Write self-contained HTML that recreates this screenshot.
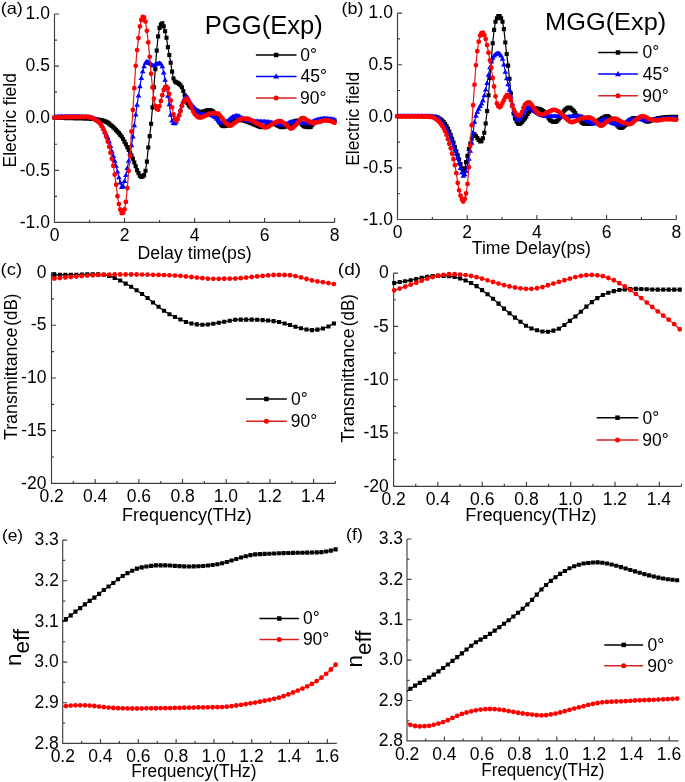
<!DOCTYPE html>
<html><head><meta charset="utf-8"><style>
html,body{margin:0;padding:0;background:#fff;width:685px;height:782px;overflow:hidden}
svg{display:block;will-change:transform}
text{font-family:"Liberation Sans",sans-serif;fill:#000}
</style></head><body>
<svg width="685" height="782" viewBox="0 0 685 782">
<rect width="685" height="782" fill="#fff"/>
<path d="M54.5,14V222.4H334.6M54.5,14h4.5M54.5,66.1h4.5M54.5,118.2h4.5M54.5,170.3h4.5M54.5,222.4h4.5M54.5,40.05h2.5M54.5,92.15h2.5M54.5,144.25h2.5M54.5,196.35h2.5M54.5,222.4v-4.5M124.53,222.4v-4.5M194.55,222.4v-4.5M264.58,222.4v-4.5M334.6,222.4v-4.5M89.51,222.4v-2.5M159.54,222.4v-2.5M229.56,222.4v-2.5M299.59,222.4v-2.5" stroke="#404040" stroke-width="1.15" fill="none"/>
<text x="25.56" y="19.2" font-size="17.5">1.0</text>
<text x="25.61" y="71.3" font-size="17.5">0.5</text>
<text x="25.56" y="123.4" font-size="17.5">0.0</text>
<text x="19.78" y="175.5" font-size="17.5">-0.5</text>
<text x="19.73" y="227.6" font-size="17.5">-1.0</text>
<text x="49.63" y="241" font-size="17.5">0</text>
<text x="119.66" y="241" font-size="17.5">2</text>
<text x="189.74" y="241" font-size="17.5">4</text>
<text x="259.65" y="241" font-size="17.5">6</text>
<text x="329.73" y="241" font-size="17.5">8</text>
<path d="M54.50,117.80 L55.90,117.84 L57.30,117.87 L58.70,117.91 L60.10,117.94 L61.50,117.98 L62.90,118.02 L64.30,118.05 L65.70,118.09 L67.10,118.12 L68.50,118.16 L69.90,118.20 L71.30,118.23 L72.70,118.27 L74.10,118.30 L75.50,118.33 L76.90,118.37 L78.30,118.40 L79.70,118.44 L81.10,118.48 L82.50,118.52 L83.90,118.56 L85.30,118.61 L86.70,118.66 L88.10,118.72 L89.50,118.79 L90.90,118.87 L92.30,118.95 L93.70,119.05 L95.10,119.17 L96.50,119.31 L97.90,119.48 L99.30,119.68 L100.70,119.94 L102.10,120.29 L103.50,120.75 L104.90,121.29 L106.30,121.91 L107.70,122.66 L109.10,123.66 L110.50,124.83 L111.90,126.07 L113.30,127.32 L114.70,128.66 L116.10,130.09 L117.50,131.60 L118.90,133.16 L120.30,134.84 L121.70,136.75 L123.10,139.06 L124.50,141.65 L125.90,144.31 L127.30,147.10 L128.70,149.89 L130.10,152.59 L131.50,155.48 L132.90,158.82 L134.30,162.45 L135.70,166.18 L137.10,170.10 L138.50,173.17 L139.90,175.77 L141.30,176.90 L142.70,176.38 L144.10,175.11 L145.50,170.76 L146.90,161.65 L148.30,147.54 L149.70,136.12 L151.10,123.78 L152.50,107.37 L153.90,87.26 L155.30,69.13 L156.70,50.64 L158.10,36.35 L159.50,27.91 L160.90,24.53 L162.30,23.32 L163.70,26.38 L165.10,31.29 L166.50,37.77 L167.90,47.16 L169.30,55.01 L170.70,62.79 L172.10,71.66 L173.50,78.56 L174.90,81.50 L176.30,82.34 L177.70,82.91 L179.10,83.86 L180.50,85.20 L181.90,87.22 L183.30,91.00 L184.70,95.34 L186.10,99.98 L187.50,103.13 L188.90,105.50 L190.30,106.94 L191.70,108.01 L193.10,108.86 L194.50,109.57 L195.90,110.24 L197.30,110.92 L198.70,111.53 L200.10,111.92 L201.50,111.97 L202.90,111.66 L204.30,111.20 L205.70,110.79 L207.10,110.32 L208.50,109.96 L209.90,109.97 L211.30,110.49 L212.70,111.40 L214.10,112.57 L215.50,114.01 L216.90,116.77 L218.30,120.09 L219.70,122.70 L221.10,124.59 L222.50,125.98 L223.90,126.18 L225.30,126.00 L226.70,125.69 L228.10,125.29 L229.50,124.77 L230.90,123.59 L232.30,122.08 L233.70,120.83 L235.10,120.40 L236.50,120.40 L237.90,120.40 L239.30,120.40 L240.70,120.40 L242.10,120.40 L243.50,120.55 L244.90,120.87 L246.30,121.32 L247.70,121.84 L249.10,122.38 L250.50,122.88 L251.90,123.46 L253.30,124.09 L254.70,124.68 L256.10,125.25 L257.50,125.88 L258.90,126.48 L260.30,126.97 L261.70,127.26 L263.10,127.25 L264.50,126.87 L265.90,126.23 L267.30,125.46 L268.70,124.68 L270.10,124.01 L271.50,123.59 L272.90,123.53 L274.30,123.87 L275.70,124.49 L277.10,125.26 L278.50,126.05 L279.90,126.74 L281.30,127.19 L282.70,127.29 L284.10,127.04 L285.50,126.55 L286.90,125.87 L288.30,125.09 L289.70,124.26 L291.10,123.46 L292.50,122.75 L293.90,121.88 L295.30,121.00 L296.70,120.45 L298.10,120.63 L299.50,121.71 L300.90,123.29 L302.30,124.92 L303.70,126.19 L305.10,126.71 L306.50,126.99 L307.90,127.20 L309.30,127.30 L310.70,126.83 L312.10,125.25 L313.50,123.27 L314.90,121.63 L316.30,120.97 L317.70,120.63 L319.10,120.34 L320.50,120.10 L321.90,119.93 L323.30,119.83 L324.70,119.80 L326.10,119.80 L327.50,119.82 L328.90,119.86 L330.30,119.92 L331.70,120.03 L333.10,120.18 L334.50,120.38" stroke="#000" stroke-width="1.2" fill="none" stroke-linejoin="round"/>
<path d="M52.45,115.75h4.1v4.1h-4.1zM53.85,115.79h4.1v4.1h-4.1zM55.25,115.82h4.1v4.1h-4.1zM56.65,115.86h4.1v4.1h-4.1zM58.05,115.89h4.1v4.1h-4.1zM59.45,115.93h4.1v4.1h-4.1zM60.85,115.97h4.1v4.1h-4.1zM62.25,116.00h4.1v4.1h-4.1zM63.65,116.04h4.1v4.1h-4.1zM65.05,116.07h4.1v4.1h-4.1zM66.45,116.11h4.1v4.1h-4.1zM67.85,116.15h4.1v4.1h-4.1zM69.25,116.18h4.1v4.1h-4.1zM70.65,116.22h4.1v4.1h-4.1zM72.05,116.25h4.1v4.1h-4.1zM73.45,116.28h4.1v4.1h-4.1zM74.85,116.32h4.1v4.1h-4.1zM76.25,116.35h4.1v4.1h-4.1zM77.65,116.39h4.1v4.1h-4.1zM79.05,116.43h4.1v4.1h-4.1zM80.45,116.47h4.1v4.1h-4.1zM81.85,116.51h4.1v4.1h-4.1zM83.25,116.56h4.1v4.1h-4.1zM84.65,116.61h4.1v4.1h-4.1zM86.05,116.67h4.1v4.1h-4.1zM87.45,116.74h4.1v4.1h-4.1zM88.85,116.82h4.1v4.1h-4.1zM90.25,116.90h4.1v4.1h-4.1zM91.65,117.00h4.1v4.1h-4.1zM93.05,117.12h4.1v4.1h-4.1zM94.45,117.26h4.1v4.1h-4.1zM95.85,117.43h4.1v4.1h-4.1zM97.25,117.63h4.1v4.1h-4.1zM98.65,117.89h4.1v4.1h-4.1zM100.05,118.24h4.1v4.1h-4.1zM101.45,118.70h4.1v4.1h-4.1zM102.85,119.24h4.1v4.1h-4.1zM104.25,119.86h4.1v4.1h-4.1zM105.65,120.61h4.1v4.1h-4.1zM107.05,121.61h4.1v4.1h-4.1zM108.45,122.78h4.1v4.1h-4.1zM109.85,124.02h4.1v4.1h-4.1zM111.25,125.27h4.1v4.1h-4.1zM112.65,126.61h4.1v4.1h-4.1zM114.05,128.04h4.1v4.1h-4.1zM115.45,129.55h4.1v4.1h-4.1zM116.85,131.11h4.1v4.1h-4.1zM118.25,132.79h4.1v4.1h-4.1zM119.65,134.70h4.1v4.1h-4.1zM121.05,137.01h4.1v4.1h-4.1zM122.45,139.60h4.1v4.1h-4.1zM123.85,142.26h4.1v4.1h-4.1zM125.25,145.05h4.1v4.1h-4.1zM126.65,147.84h4.1v4.1h-4.1zM128.05,150.54h4.1v4.1h-4.1zM129.45,153.43h4.1v4.1h-4.1zM130.85,156.77h4.1v4.1h-4.1zM132.25,160.40h4.1v4.1h-4.1zM133.65,164.13h4.1v4.1h-4.1zM135.05,168.05h4.1v4.1h-4.1zM136.45,171.12h4.1v4.1h-4.1zM137.85,173.72h4.1v4.1h-4.1zM139.25,174.85h4.1v4.1h-4.1zM140.65,174.33h4.1v4.1h-4.1zM142.05,173.06h4.1v4.1h-4.1zM143.45,168.71h4.1v4.1h-4.1zM144.85,159.60h4.1v4.1h-4.1zM146.25,145.49h4.1v4.1h-4.1zM147.65,134.07h4.1v4.1h-4.1zM149.05,121.73h4.1v4.1h-4.1zM150.45,105.32h4.1v4.1h-4.1zM151.85,85.21h4.1v4.1h-4.1zM153.25,67.08h4.1v4.1h-4.1zM154.65,48.59h4.1v4.1h-4.1zM156.05,34.30h4.1v4.1h-4.1zM157.45,25.86h4.1v4.1h-4.1zM158.85,22.48h4.1v4.1h-4.1zM160.25,21.27h4.1v4.1h-4.1zM161.65,24.33h4.1v4.1h-4.1zM163.05,29.24h4.1v4.1h-4.1zM164.45,35.72h4.1v4.1h-4.1zM165.85,45.11h4.1v4.1h-4.1zM167.25,52.96h4.1v4.1h-4.1zM168.65,60.74h4.1v4.1h-4.1zM170.05,69.61h4.1v4.1h-4.1zM171.45,76.51h4.1v4.1h-4.1zM172.85,79.45h4.1v4.1h-4.1zM174.25,80.29h4.1v4.1h-4.1zM175.65,80.86h4.1v4.1h-4.1zM177.05,81.81h4.1v4.1h-4.1zM178.45,83.15h4.1v4.1h-4.1zM179.85,85.17h4.1v4.1h-4.1zM181.25,88.95h4.1v4.1h-4.1zM182.65,93.29h4.1v4.1h-4.1zM184.05,97.93h4.1v4.1h-4.1zM185.45,101.08h4.1v4.1h-4.1zM186.85,103.45h4.1v4.1h-4.1zM188.25,104.89h4.1v4.1h-4.1zM189.65,105.96h4.1v4.1h-4.1zM191.05,106.81h4.1v4.1h-4.1zM192.45,107.52h4.1v4.1h-4.1zM193.85,108.19h4.1v4.1h-4.1zM195.25,108.87h4.1v4.1h-4.1zM196.65,109.48h4.1v4.1h-4.1zM198.05,109.87h4.1v4.1h-4.1zM199.45,109.92h4.1v4.1h-4.1zM200.85,109.61h4.1v4.1h-4.1zM202.25,109.15h4.1v4.1h-4.1zM203.65,108.74h4.1v4.1h-4.1zM205.05,108.27h4.1v4.1h-4.1zM206.45,107.91h4.1v4.1h-4.1zM207.85,107.92h4.1v4.1h-4.1zM209.25,108.44h4.1v4.1h-4.1zM210.65,109.35h4.1v4.1h-4.1zM212.05,110.52h4.1v4.1h-4.1zM213.45,111.96h4.1v4.1h-4.1zM214.85,114.72h4.1v4.1h-4.1zM216.25,118.04h4.1v4.1h-4.1zM217.65,120.65h4.1v4.1h-4.1zM219.05,122.54h4.1v4.1h-4.1zM220.45,123.93h4.1v4.1h-4.1zM221.85,124.13h4.1v4.1h-4.1zM223.25,123.95h4.1v4.1h-4.1zM224.65,123.64h4.1v4.1h-4.1zM226.05,123.24h4.1v4.1h-4.1zM227.45,122.72h4.1v4.1h-4.1zM228.85,121.54h4.1v4.1h-4.1zM230.25,120.03h4.1v4.1h-4.1zM231.65,118.78h4.1v4.1h-4.1zM233.05,118.35h4.1v4.1h-4.1zM234.45,118.35h4.1v4.1h-4.1zM235.85,118.35h4.1v4.1h-4.1zM237.25,118.35h4.1v4.1h-4.1zM238.65,118.35h4.1v4.1h-4.1zM240.05,118.35h4.1v4.1h-4.1zM241.45,118.50h4.1v4.1h-4.1zM242.85,118.82h4.1v4.1h-4.1zM244.25,119.27h4.1v4.1h-4.1zM245.65,119.79h4.1v4.1h-4.1zM247.05,120.33h4.1v4.1h-4.1zM248.45,120.83h4.1v4.1h-4.1zM249.85,121.41h4.1v4.1h-4.1zM251.25,122.04h4.1v4.1h-4.1zM252.65,122.63h4.1v4.1h-4.1zM254.05,123.20h4.1v4.1h-4.1zM255.45,123.83h4.1v4.1h-4.1zM256.85,124.43h4.1v4.1h-4.1zM258.25,124.92h4.1v4.1h-4.1zM259.65,125.21h4.1v4.1h-4.1zM261.05,125.20h4.1v4.1h-4.1zM262.45,124.82h4.1v4.1h-4.1zM263.85,124.18h4.1v4.1h-4.1zM265.25,123.41h4.1v4.1h-4.1zM266.65,122.63h4.1v4.1h-4.1zM268.05,121.96h4.1v4.1h-4.1zM269.45,121.54h4.1v4.1h-4.1zM270.85,121.48h4.1v4.1h-4.1zM272.25,121.82h4.1v4.1h-4.1zM273.65,122.44h4.1v4.1h-4.1zM275.05,123.21h4.1v4.1h-4.1zM276.45,124.00h4.1v4.1h-4.1zM277.85,124.69h4.1v4.1h-4.1zM279.25,125.14h4.1v4.1h-4.1zM280.65,125.24h4.1v4.1h-4.1zM282.05,124.99h4.1v4.1h-4.1zM283.45,124.50h4.1v4.1h-4.1zM284.85,123.82h4.1v4.1h-4.1zM286.25,123.04h4.1v4.1h-4.1zM287.65,122.21h4.1v4.1h-4.1zM289.05,121.41h4.1v4.1h-4.1zM290.45,120.70h4.1v4.1h-4.1zM291.85,119.83h4.1v4.1h-4.1zM293.25,118.95h4.1v4.1h-4.1zM294.65,118.40h4.1v4.1h-4.1zM296.05,118.58h4.1v4.1h-4.1zM297.45,119.66h4.1v4.1h-4.1zM298.85,121.24h4.1v4.1h-4.1zM300.25,122.87h4.1v4.1h-4.1zM301.65,124.14h4.1v4.1h-4.1zM303.05,124.66h4.1v4.1h-4.1zM304.45,124.94h4.1v4.1h-4.1zM305.85,125.15h4.1v4.1h-4.1zM307.25,125.25h4.1v4.1h-4.1zM308.65,124.78h4.1v4.1h-4.1zM310.05,123.20h4.1v4.1h-4.1zM311.45,121.22h4.1v4.1h-4.1zM312.85,119.58h4.1v4.1h-4.1zM314.25,118.92h4.1v4.1h-4.1zM315.65,118.58h4.1v4.1h-4.1zM317.05,118.29h4.1v4.1h-4.1zM318.45,118.05h4.1v4.1h-4.1zM319.85,117.88h4.1v4.1h-4.1zM321.25,117.78h4.1v4.1h-4.1zM322.65,117.75h4.1v4.1h-4.1zM324.05,117.75h4.1v4.1h-4.1zM325.45,117.77h4.1v4.1h-4.1zM326.85,117.81h4.1v4.1h-4.1zM328.25,117.87h4.1v4.1h-4.1zM329.65,117.98h4.1v4.1h-4.1zM331.05,118.13h4.1v4.1h-4.1zM332.45,118.33h4.1v4.1h-4.1z" fill="#000"/>
<path d="M54.50,116.80 L55.90,116.75 L57.30,116.70 L58.70,116.66 L60.10,116.62 L61.50,116.59 L62.90,116.56 L64.30,116.54 L65.70,116.52 L67.10,116.51 L68.50,116.50 L69.90,116.50 L71.30,116.50 L72.70,116.51 L74.10,116.52 L75.50,116.54 L76.90,116.57 L78.30,116.60 L79.70,116.63 L81.10,116.67 L82.50,116.71 L83.90,116.76 L85.30,116.81 L86.70,116.91 L88.10,117.07 L89.50,117.28 L90.90,117.54 L92.30,117.84 L93.70,118.20 L95.10,118.76 L96.50,119.52 L97.90,120.43 L99.30,121.66 L100.70,123.36 L102.10,125.79 L103.50,128.70 L104.90,131.52 L106.30,134.42 L107.70,137.62 L109.10,141.36 L110.50,146.12 L111.90,151.28 L113.30,156.12 L114.70,160.90 L116.10,165.96 L117.50,171.71 L118.90,177.43 L120.30,182.63 L121.70,187.13 L123.10,186.26 L124.50,181.14 L125.90,175.24 L127.30,168.02 L128.70,160.82 L130.10,153.26 L131.50,145.38 L132.90,136.60 L134.30,125.39 L135.70,114.72 L137.10,104.92 L138.50,95.66 L139.90,86.45 L141.30,78.02 L142.70,71.46 L144.10,66.50 L145.50,62.83 L146.90,61.52 L148.30,62.13 L149.70,63.08 L151.10,64.22 L152.50,65.44 L153.90,65.58 L155.30,64.74 L156.70,63.97 L158.10,63.51 L159.50,63.22 L160.90,63.84 L162.30,66.29 L163.70,72.61 L165.10,79.96 L166.50,87.78 L167.90,95.97 L169.30,104.50 L170.70,114.80 L172.10,120.71 L173.50,123.12 L174.90,123.26 L176.30,121.67 L177.70,118.45 L179.10,114.51 L180.50,109.50 L181.90,104.42 L183.30,101.07 L184.70,98.22 L186.10,96.60 L187.50,97.19 L188.90,99.68 L190.30,102.48 L191.70,104.46 L193.10,106.24 L194.50,107.91 L195.90,109.54 L197.30,111.38 L198.70,113.10 L200.10,114.26 L201.50,114.50 L202.90,114.50 L204.30,114.50 L205.70,114.50 L207.10,114.50 L208.50,114.50 L209.90,114.55 L211.30,114.93 L212.70,115.58 L214.10,116.37 L215.50,117.26 L216.90,118.83 L218.30,120.69 L219.70,122.19 L221.10,122.70 L222.50,122.58 L223.90,122.31 L225.30,121.94 L226.70,121.50 L228.10,120.68 L229.50,119.39 L230.90,118.04 L232.30,117.03 L233.70,116.48 L235.10,116.02 L236.50,115.74 L237.90,115.78 L239.30,116.35 L240.70,117.21 L242.10,118.10 L243.50,118.76 L244.90,119.34 L246.30,119.90 L247.70,120.39 L249.10,120.76 L250.50,120.95 L251.90,121.08 L253.30,121.19 L254.70,121.28 L256.10,121.35 L257.50,121.42 L258.90,121.48 L260.30,121.54 L261.70,121.58 L263.10,121.62 L264.50,121.68 L265.90,121.77 L267.30,121.93 L268.70,122.13 L270.10,122.37 L271.50,122.63 L272.90,122.90 L274.30,123.18 L275.70,123.43 L277.10,123.69 L278.50,124.01 L279.90,124.33 L281.30,124.60 L282.70,124.77 L284.10,124.76 L285.50,124.38 L286.90,123.75 L288.30,123.01 L289.70,122.32 L291.10,121.84 L292.50,121.70 L293.90,121.76 L295.30,121.90 L296.70,122.09 L298.10,122.32 L299.50,122.57 L300.90,122.82 L302.30,123.06 L303.70,123.26 L305.10,123.41 L306.50,123.49 L307.90,123.44 L309.30,123.12 L310.70,122.57 L312.10,121.90 L313.50,121.18 L314.90,120.52 L316.30,119.99 L317.70,119.64 L319.10,119.33 L320.50,119.04 L321.90,118.80 L323.30,118.65 L324.70,118.60 L326.10,118.62 L327.50,118.68 L328.90,118.78 L330.30,118.94 L331.70,119.15 L333.10,119.43 L334.50,119.77" stroke="#0000ff" stroke-width="1.2" fill="none" stroke-linejoin="round"/>
<path d="M54.50,114.00L57.35,118.67L51.65,118.67zM55.90,113.94L58.75,118.62L53.05,118.62zM57.30,113.90L60.15,118.57L54.45,118.57zM58.70,113.85L61.55,118.53L55.85,118.53zM60.10,113.82L62.95,118.49L57.25,118.49zM61.50,113.78L64.35,118.46L58.65,118.46zM62.90,113.76L65.75,118.43L60.05,118.43zM64.30,113.74L67.15,118.41L61.45,118.41zM65.70,113.72L68.55,118.39L62.85,118.39zM67.10,113.71L69.95,118.38L64.25,118.38zM68.50,113.70L71.35,118.37L65.65,118.37zM69.90,113.70L72.75,118.37L67.05,118.37zM71.30,113.70L74.15,118.37L68.45,118.37zM72.70,113.71L75.55,118.38L69.85,118.38zM74.10,113.72L76.95,118.39L71.25,118.39zM75.50,113.74L78.35,118.41L72.65,118.41zM76.90,113.76L79.75,118.44L74.05,118.44zM78.30,113.79L81.15,118.47L75.45,118.47zM79.70,113.82L82.55,118.50L76.85,118.50zM81.10,113.86L83.95,118.54L78.25,118.54zM82.50,113.91L85.35,118.58L79.65,118.58zM83.90,113.95L86.75,118.63L81.05,118.63zM85.30,114.01L88.15,118.68L82.45,118.68zM86.70,114.11L89.55,118.78L83.85,118.78zM88.10,114.26L90.95,118.94L85.25,118.94zM89.50,114.47L92.35,119.15L86.65,119.15zM90.90,114.73L93.75,119.41L88.05,119.41zM92.30,115.03L95.15,119.71L89.45,119.71zM93.70,115.39L96.55,120.07L90.85,120.07zM95.10,115.96L97.95,120.63L92.25,120.63zM96.50,116.71L99.35,121.39L93.65,121.39zM97.90,117.63L100.75,122.30L95.05,122.30zM99.30,118.85L102.15,123.53L96.45,123.53zM100.70,120.56L103.55,125.23L97.85,125.23zM102.10,122.98L104.95,127.66L99.25,127.66zM103.50,125.90L106.35,130.57L100.65,130.57zM104.90,128.72L107.75,133.39L102.05,133.39zM106.30,131.62L109.15,136.29L103.45,136.29zM107.70,134.81L110.55,139.49L104.85,139.49zM109.10,138.55L111.95,143.23L106.25,143.23zM110.50,143.32L113.35,147.99L107.65,147.99zM111.90,148.48L114.75,153.15L109.05,153.15zM113.30,153.32L116.15,157.99L110.45,157.99zM114.70,158.10L117.55,162.77L111.85,162.77zM116.10,163.15L118.95,167.83L113.25,167.83zM117.50,168.90L120.35,173.57L114.65,173.57zM118.90,174.63L121.75,179.30L116.05,179.30zM120.30,179.83L123.15,184.50L117.45,184.50zM121.70,184.33L124.55,189.00L118.85,189.00zM123.10,183.46L125.95,188.13L120.25,188.13zM124.50,178.34L127.35,183.01L121.65,183.01zM125.90,172.44L128.75,177.11L123.05,177.11zM127.30,165.22L130.15,169.89L124.45,169.89zM128.70,158.02L131.55,162.69L125.85,162.69zM130.10,150.46L132.95,155.13L127.25,155.13zM131.50,142.57L134.35,147.25L128.65,147.25zM132.90,133.80L135.75,138.47L130.05,138.47zM134.30,122.59L137.15,127.26L131.45,127.26zM135.70,111.91L138.55,116.59L132.85,116.59zM137.10,102.11L139.95,106.78L134.25,106.78zM138.50,92.85L141.35,97.53L135.65,97.53zM139.90,83.65L142.75,88.32L137.05,88.32zM141.30,75.22L144.15,79.89L138.45,79.89zM142.70,68.65L145.55,73.33L139.85,73.33zM144.10,63.70L146.95,68.37L141.25,68.37zM145.50,60.02L148.35,64.70L142.65,64.70zM146.90,58.72L149.75,63.39L144.05,63.39zM148.30,59.33L151.15,64.00L145.45,64.00zM149.70,60.27L152.55,64.94L146.85,64.94zM151.10,61.41L153.95,66.09L148.25,66.09zM152.50,62.63L155.35,67.31L149.65,67.31zM153.90,62.78L156.75,67.45L151.05,67.45zM155.30,61.94L158.15,66.61L152.45,66.61zM156.70,61.16L159.55,65.84L153.85,65.84zM158.10,60.70L160.95,65.38L155.25,65.38zM159.50,60.41L162.35,65.09L156.65,65.09zM160.90,61.04L163.75,65.71L158.05,65.71zM162.30,63.48L165.15,68.16L159.45,68.16zM163.70,69.80L166.55,74.48L160.85,74.48zM165.10,77.16L167.95,81.83L162.25,81.83zM166.50,84.98L169.35,89.65L163.65,89.65zM167.90,93.16L170.75,97.84L165.05,97.84zM169.30,101.69L172.15,106.37L166.45,106.37zM170.70,112.00L173.55,116.67L167.85,116.67zM172.10,117.91L174.95,122.58L169.25,122.58zM173.50,120.31L176.35,124.98L170.65,124.98zM174.90,120.45L177.75,125.13L172.05,125.13zM176.30,118.86L179.15,123.54L173.45,123.54zM177.70,115.65L180.55,120.32L174.85,120.32zM179.10,111.71L181.95,116.38L176.25,116.38zM180.50,106.69L183.35,111.37L177.65,111.37zM181.90,101.61L184.75,106.29L179.05,106.29zM183.30,98.26L186.15,102.94L180.45,102.94zM184.70,95.41L187.55,100.09L181.85,100.09zM186.10,93.79L188.95,98.47L183.25,98.47zM187.50,94.39L190.35,99.06L184.65,99.06zM188.90,96.88L191.75,101.55L186.05,101.55zM190.30,99.67L193.15,104.35L187.45,104.35zM191.70,101.65L194.55,106.33L188.85,106.33zM193.10,103.44L195.95,108.11L190.25,108.11zM194.50,105.10L197.35,109.78L191.65,109.78zM195.90,106.73L198.75,111.41L193.05,111.41zM197.30,108.58L200.15,113.25L194.45,113.25zM198.70,110.30L201.55,114.97L195.85,114.97zM200.10,111.45L202.95,116.13L197.25,116.13zM201.50,111.70L204.35,116.37L198.65,116.37zM202.90,111.70L205.75,116.37L200.05,116.37zM204.30,111.70L207.15,116.37L201.45,116.37zM205.70,111.70L208.55,116.37L202.85,116.37zM207.10,111.70L209.95,116.37L204.25,116.37zM208.50,111.70L211.35,116.37L205.65,116.37zM209.90,111.75L212.75,116.42L207.05,116.42zM211.30,112.13L214.15,116.80L208.45,116.80zM212.70,112.78L215.55,117.45L209.85,117.45zM214.10,113.57L216.95,118.24L211.25,118.24zM215.50,114.46L218.35,119.13L212.65,119.13zM216.90,116.02L219.75,120.69L214.05,120.69zM218.30,117.88L221.15,122.56L215.45,122.56zM219.70,119.39L222.55,124.06L216.85,124.06zM221.10,119.89L223.95,124.57L218.25,124.57zM222.50,119.78L225.35,124.45L219.65,124.45zM223.90,119.51L226.75,124.18L221.05,124.18zM225.30,119.13L228.15,123.81L222.45,123.81zM226.70,118.70L229.55,123.37L223.85,123.37zM228.10,117.87L230.95,122.55L225.25,122.55zM229.50,116.59L232.35,121.26L226.65,121.26zM230.90,115.24L233.75,119.91L228.05,119.91zM232.30,114.23L235.15,118.90L229.45,118.90zM233.70,113.68L236.55,118.35L230.85,118.35zM235.10,113.22L237.95,117.89L232.25,117.89zM236.50,112.94L239.35,117.61L233.65,117.61zM237.90,112.98L240.75,117.65L235.05,117.65zM239.30,113.54L242.15,118.22L236.45,118.22zM240.70,114.41L243.55,119.08L237.85,119.08zM242.10,115.30L244.95,119.97L239.25,119.97zM243.50,115.96L246.35,120.63L240.65,120.63zM244.90,116.54L247.75,121.21L242.05,121.21zM246.30,117.10L249.15,121.77L243.45,121.77zM247.70,117.59L250.55,122.26L244.85,122.26zM249.10,117.95L251.95,122.63L246.25,122.63zM250.50,118.15L253.35,122.82L247.65,122.82zM251.90,118.28L254.75,122.95L249.05,122.95zM253.30,118.39L256.15,123.06L250.45,123.06zM254.70,118.47L257.55,123.15L251.85,123.15zM256.10,118.55L258.95,123.22L253.25,123.22zM257.50,118.61L260.35,123.29L254.65,123.29zM258.90,118.67L261.75,123.35L256.05,123.35zM260.30,118.73L263.15,123.41L257.45,123.41zM261.70,118.78L264.55,123.45L258.85,123.45zM263.10,118.82L265.95,123.49L260.25,123.49zM264.50,118.87L267.35,123.55L261.65,123.55zM265.90,118.97L268.75,123.64L263.05,123.64zM267.30,119.12L270.15,123.80L264.45,123.80zM268.70,119.32L271.55,124.00L265.85,124.00zM270.10,119.56L272.95,124.24L267.25,124.24zM271.50,119.83L274.35,124.50L268.65,124.50zM272.90,120.10L275.75,124.77L270.05,124.77zM274.30,120.37L277.15,125.05L271.45,125.05zM275.70,120.63L278.55,125.30L272.85,125.30zM277.10,120.89L279.95,125.56L274.25,125.56zM278.50,121.20L281.35,125.88L275.65,125.88zM279.90,121.52L282.75,126.20L277.05,126.20zM281.30,121.80L284.15,126.47L278.45,126.47zM282.70,121.97L285.55,126.64L279.85,126.64zM284.10,121.95L286.95,126.63L281.25,126.63zM285.50,121.58L288.35,126.25L282.65,126.25zM286.90,120.95L289.75,125.62L284.05,125.62zM288.30,120.21L291.15,124.88L285.45,124.88zM289.70,119.52L292.55,124.19L286.85,124.19zM291.10,119.03L293.95,123.71L288.25,123.71zM292.50,118.90L295.35,123.57L289.65,123.57zM293.90,118.96L296.75,123.63L291.05,123.63zM295.30,119.10L298.15,123.77L292.45,123.77zM296.70,119.29L299.55,123.96L293.85,123.96zM298.10,119.52L300.95,124.19L295.25,124.19zM299.50,119.77L302.35,124.44L296.65,124.44zM300.90,120.02L303.75,124.69L298.05,124.69zM302.30,120.26L305.15,124.93L299.45,124.93zM303.70,120.46L306.55,125.13L300.85,125.13zM305.10,120.61L307.95,125.28L302.25,125.28zM306.50,120.69L309.35,125.36L303.65,125.36zM307.90,120.64L310.75,125.31L305.05,125.31zM309.30,120.31L312.15,124.99L306.45,124.99zM310.70,119.77L313.55,124.44L307.85,124.44zM312.10,119.09L314.95,123.77L309.25,123.77zM313.50,118.38L316.35,123.05L310.65,123.05zM314.90,117.71L317.75,122.39L312.05,122.39zM316.30,117.18L319.15,121.86L313.45,121.86zM317.70,116.84L320.55,121.51L314.85,121.51zM319.10,116.53L321.95,121.20L316.25,121.20zM320.50,116.24L323.35,120.91L317.65,120.91zM321.90,116.00L324.75,120.67L319.05,120.67zM323.30,115.84L326.15,120.52L320.45,120.52zM324.70,115.80L327.55,120.47L321.85,120.47zM326.10,115.82L328.95,120.49L323.25,120.49zM327.50,115.88L330.35,120.55L324.65,120.55zM328.90,115.98L331.75,120.65L326.05,120.65zM330.30,116.13L333.15,120.81L327.45,120.81zM331.70,116.34L334.55,121.02L328.85,121.02zM333.10,116.62L335.95,121.29L330.25,121.29zM334.50,116.97L337.35,121.64L331.65,121.64z" fill="#0000ff"/>
<path d="M54.50,117.50 L55.90,117.44 L57.30,117.38 L58.70,117.32 L60.10,117.26 L61.50,117.21 L62.90,117.16 L64.30,117.12 L65.70,117.08 L67.10,117.05 L68.50,117.02 L69.90,117.00 L71.30,116.99 L72.70,116.97 L74.10,116.96 L75.50,116.95 L76.90,116.93 L78.30,116.92 L79.70,116.92 L81.10,116.91 L82.50,116.90 L83.90,116.90 L85.30,116.90 L86.70,116.94 L88.10,117.02 L89.50,117.15 L90.90,117.41 L92.30,118.05 L93.70,118.89 L95.10,119.69 L96.50,120.51 L97.90,121.45 L99.30,122.61 L100.70,124.20 L102.10,126.53 L103.50,129.40 L104.90,132.68 L106.30,136.82 L107.70,141.55 L109.10,146.83 L110.50,152.70 L111.90,158.78 L113.30,165.75 L114.70,174.55 L116.10,184.63 L117.50,196.21 L118.90,204.12 L120.30,209.72 L121.70,213.19 L123.10,212.86 L124.50,209.47 L125.90,201.96 L127.30,188.00 L128.70,170.94 L130.10,155.85 L131.50,131.52 L132.90,109.96 L134.30,88.20 L135.70,65.87 L137.10,50.07 L138.50,38.06 L139.90,26.43 L141.30,20.00 L142.70,17.01 L144.10,17.46 L145.50,21.56 L146.90,30.80 L148.30,42.40 L149.70,56.83 L151.10,73.68 L152.50,87.38 L153.90,98.60 L155.30,105.84 L156.70,108.85 L158.10,109.71 L159.50,106.10 L160.90,101.00 L162.30,95.15 L163.70,90.02 L165.10,87.17 L166.50,86.54 L167.90,88.45 L169.30,93.86 L170.70,100.38 L172.10,107.29 L173.50,114.35 L174.90,118.39 L176.30,120.56 L177.70,119.17 L179.10,115.38 L180.50,111.26 L181.90,106.08 L183.30,102.34 L184.70,100.31 L186.10,98.99 L187.50,99.19 L188.90,101.58 L190.30,104.49 L191.70,107.75 L193.10,111.28 L194.50,113.80 L195.90,115.36 L197.30,116.66 L198.70,117.46 L200.10,117.57 L201.50,117.29 L202.90,116.80 L204.30,116.24 L205.70,115.70 L207.10,115.08 L208.50,114.35 L209.90,113.72 L211.30,113.41 L212.70,113.40 L214.10,113.40 L215.50,113.40 L216.90,113.40 L218.30,113.70 L219.70,115.06 L221.10,116.89 L222.50,118.60 L223.90,120.55 L225.30,122.49 L226.70,123.90 L228.10,124.84 L229.50,125.50 L230.90,125.48 L232.30,124.70 L233.70,123.58 L235.10,122.58 L236.50,121.59 L237.90,120.56 L239.30,119.70 L240.70,119.20 L242.10,118.97 L243.50,118.79 L244.90,118.66 L246.30,118.60 L247.70,118.74 L249.10,119.24 L250.50,119.94 L251.90,120.67 L253.30,121.32 L254.70,122.04 L256.10,122.80 L257.50,123.55 L258.90,124.27 L260.30,124.94 L261.70,125.70 L263.10,126.44 L264.50,127.01 L265.90,127.29 L267.30,127.12 L268.70,126.47 L270.10,125.58 L271.50,124.68 L272.90,123.96 L274.30,123.21 L275.70,122.44 L277.10,121.75 L278.50,121.27 L279.90,121.10 L281.30,121.46 L282.70,122.29 L284.10,123.36 L285.50,124.45 L286.90,125.52 L288.30,126.87 L289.70,128.05 L291.10,128.50 L292.50,127.97 L293.90,126.81 L295.30,125.43 L296.70,124.12 L298.10,122.41 L299.50,120.55 L300.90,118.97 L302.30,118.08 L303.70,118.16 L305.10,118.89 L306.50,119.91 L307.90,120.85 L309.30,121.52 L310.70,122.20 L312.10,122.73 L313.50,122.90 L314.90,122.76 L316.30,122.48 L317.70,122.13 L319.10,121.78 L320.50,121.47 L321.90,121.08 L323.30,120.72 L324.70,120.46 L326.10,120.40 L327.50,120.50 L328.90,120.72 L330.30,121.06 L331.70,121.53 L333.10,122.12 L334.50,122.84" stroke="#e81818" stroke-width="1.2" fill="none" stroke-linejoin="round"/>
<path d="M52.10,117.50a2.4,2.4 0 1,0 4.8,0a2.4,2.4 0 1,0 -4.8,0M53.50,117.44a2.4,2.4 0 1,0 4.8,0a2.4,2.4 0 1,0 -4.8,0M54.90,117.38a2.4,2.4 0 1,0 4.8,0a2.4,2.4 0 1,0 -4.8,0M56.30,117.32a2.4,2.4 0 1,0 4.8,0a2.4,2.4 0 1,0 -4.8,0M57.70,117.26a2.4,2.4 0 1,0 4.8,0a2.4,2.4 0 1,0 -4.8,0M59.10,117.21a2.4,2.4 0 1,0 4.8,0a2.4,2.4 0 1,0 -4.8,0M60.50,117.16a2.4,2.4 0 1,0 4.8,0a2.4,2.4 0 1,0 -4.8,0M61.90,117.12a2.4,2.4 0 1,0 4.8,0a2.4,2.4 0 1,0 -4.8,0M63.30,117.08a2.4,2.4 0 1,0 4.8,0a2.4,2.4 0 1,0 -4.8,0M64.70,117.05a2.4,2.4 0 1,0 4.8,0a2.4,2.4 0 1,0 -4.8,0M66.10,117.02a2.4,2.4 0 1,0 4.8,0a2.4,2.4 0 1,0 -4.8,0M67.50,117.00a2.4,2.4 0 1,0 4.8,0a2.4,2.4 0 1,0 -4.8,0M68.90,116.99a2.4,2.4 0 1,0 4.8,0a2.4,2.4 0 1,0 -4.8,0M70.30,116.97a2.4,2.4 0 1,0 4.8,0a2.4,2.4 0 1,0 -4.8,0M71.70,116.96a2.4,2.4 0 1,0 4.8,0a2.4,2.4 0 1,0 -4.8,0M73.10,116.95a2.4,2.4 0 1,0 4.8,0a2.4,2.4 0 1,0 -4.8,0M74.50,116.93a2.4,2.4 0 1,0 4.8,0a2.4,2.4 0 1,0 -4.8,0M75.90,116.92a2.4,2.4 0 1,0 4.8,0a2.4,2.4 0 1,0 -4.8,0M77.30,116.92a2.4,2.4 0 1,0 4.8,0a2.4,2.4 0 1,0 -4.8,0M78.70,116.91a2.4,2.4 0 1,0 4.8,0a2.4,2.4 0 1,0 -4.8,0M80.10,116.90a2.4,2.4 0 1,0 4.8,0a2.4,2.4 0 1,0 -4.8,0M81.50,116.90a2.4,2.4 0 1,0 4.8,0a2.4,2.4 0 1,0 -4.8,0M82.90,116.90a2.4,2.4 0 1,0 4.8,0a2.4,2.4 0 1,0 -4.8,0M84.30,116.94a2.4,2.4 0 1,0 4.8,0a2.4,2.4 0 1,0 -4.8,0M85.70,117.02a2.4,2.4 0 1,0 4.8,0a2.4,2.4 0 1,0 -4.8,0M87.10,117.15a2.4,2.4 0 1,0 4.8,0a2.4,2.4 0 1,0 -4.8,0M88.50,117.41a2.4,2.4 0 1,0 4.8,0a2.4,2.4 0 1,0 -4.8,0M89.90,118.05a2.4,2.4 0 1,0 4.8,0a2.4,2.4 0 1,0 -4.8,0M91.30,118.89a2.4,2.4 0 1,0 4.8,0a2.4,2.4 0 1,0 -4.8,0M92.70,119.69a2.4,2.4 0 1,0 4.8,0a2.4,2.4 0 1,0 -4.8,0M94.10,120.51a2.4,2.4 0 1,0 4.8,0a2.4,2.4 0 1,0 -4.8,0M95.50,121.45a2.4,2.4 0 1,0 4.8,0a2.4,2.4 0 1,0 -4.8,0M96.90,122.61a2.4,2.4 0 1,0 4.8,0a2.4,2.4 0 1,0 -4.8,0M98.30,124.20a2.4,2.4 0 1,0 4.8,0a2.4,2.4 0 1,0 -4.8,0M99.70,126.53a2.4,2.4 0 1,0 4.8,0a2.4,2.4 0 1,0 -4.8,0M101.10,129.40a2.4,2.4 0 1,0 4.8,0a2.4,2.4 0 1,0 -4.8,0M102.50,132.68a2.4,2.4 0 1,0 4.8,0a2.4,2.4 0 1,0 -4.8,0M103.90,136.82a2.4,2.4 0 1,0 4.8,0a2.4,2.4 0 1,0 -4.8,0M105.30,141.55a2.4,2.4 0 1,0 4.8,0a2.4,2.4 0 1,0 -4.8,0M106.70,146.83a2.4,2.4 0 1,0 4.8,0a2.4,2.4 0 1,0 -4.8,0M108.10,152.70a2.4,2.4 0 1,0 4.8,0a2.4,2.4 0 1,0 -4.8,0M109.50,158.78a2.4,2.4 0 1,0 4.8,0a2.4,2.4 0 1,0 -4.8,0M110.90,165.75a2.4,2.4 0 1,0 4.8,0a2.4,2.4 0 1,0 -4.8,0M112.30,174.55a2.4,2.4 0 1,0 4.8,0a2.4,2.4 0 1,0 -4.8,0M113.70,184.63a2.4,2.4 0 1,0 4.8,0a2.4,2.4 0 1,0 -4.8,0M115.10,196.21a2.4,2.4 0 1,0 4.8,0a2.4,2.4 0 1,0 -4.8,0M116.50,204.12a2.4,2.4 0 1,0 4.8,0a2.4,2.4 0 1,0 -4.8,0M117.90,209.72a2.4,2.4 0 1,0 4.8,0a2.4,2.4 0 1,0 -4.8,0M119.30,213.19a2.4,2.4 0 1,0 4.8,0a2.4,2.4 0 1,0 -4.8,0M120.70,212.86a2.4,2.4 0 1,0 4.8,0a2.4,2.4 0 1,0 -4.8,0M122.10,209.47a2.4,2.4 0 1,0 4.8,0a2.4,2.4 0 1,0 -4.8,0M123.50,201.96a2.4,2.4 0 1,0 4.8,0a2.4,2.4 0 1,0 -4.8,0M124.90,188.00a2.4,2.4 0 1,0 4.8,0a2.4,2.4 0 1,0 -4.8,0M126.30,170.94a2.4,2.4 0 1,0 4.8,0a2.4,2.4 0 1,0 -4.8,0M127.70,155.85a2.4,2.4 0 1,0 4.8,0a2.4,2.4 0 1,0 -4.8,0M129.10,131.52a2.4,2.4 0 1,0 4.8,0a2.4,2.4 0 1,0 -4.8,0M130.50,109.96a2.4,2.4 0 1,0 4.8,0a2.4,2.4 0 1,0 -4.8,0M131.90,88.20a2.4,2.4 0 1,0 4.8,0a2.4,2.4 0 1,0 -4.8,0M133.30,65.87a2.4,2.4 0 1,0 4.8,0a2.4,2.4 0 1,0 -4.8,0M134.70,50.07a2.4,2.4 0 1,0 4.8,0a2.4,2.4 0 1,0 -4.8,0M136.10,38.06a2.4,2.4 0 1,0 4.8,0a2.4,2.4 0 1,0 -4.8,0M137.50,26.43a2.4,2.4 0 1,0 4.8,0a2.4,2.4 0 1,0 -4.8,0M138.90,20.00a2.4,2.4 0 1,0 4.8,0a2.4,2.4 0 1,0 -4.8,0M140.30,17.01a2.4,2.4 0 1,0 4.8,0a2.4,2.4 0 1,0 -4.8,0M141.70,17.46a2.4,2.4 0 1,0 4.8,0a2.4,2.4 0 1,0 -4.8,0M143.10,21.56a2.4,2.4 0 1,0 4.8,0a2.4,2.4 0 1,0 -4.8,0M144.50,30.80a2.4,2.4 0 1,0 4.8,0a2.4,2.4 0 1,0 -4.8,0M145.90,42.40a2.4,2.4 0 1,0 4.8,0a2.4,2.4 0 1,0 -4.8,0M147.30,56.83a2.4,2.4 0 1,0 4.8,0a2.4,2.4 0 1,0 -4.8,0M148.70,73.68a2.4,2.4 0 1,0 4.8,0a2.4,2.4 0 1,0 -4.8,0M150.10,87.38a2.4,2.4 0 1,0 4.8,0a2.4,2.4 0 1,0 -4.8,0M151.50,98.60a2.4,2.4 0 1,0 4.8,0a2.4,2.4 0 1,0 -4.8,0M152.90,105.84a2.4,2.4 0 1,0 4.8,0a2.4,2.4 0 1,0 -4.8,0M154.30,108.85a2.4,2.4 0 1,0 4.8,0a2.4,2.4 0 1,0 -4.8,0M155.70,109.71a2.4,2.4 0 1,0 4.8,0a2.4,2.4 0 1,0 -4.8,0M157.10,106.10a2.4,2.4 0 1,0 4.8,0a2.4,2.4 0 1,0 -4.8,0M158.50,101.00a2.4,2.4 0 1,0 4.8,0a2.4,2.4 0 1,0 -4.8,0M159.90,95.15a2.4,2.4 0 1,0 4.8,0a2.4,2.4 0 1,0 -4.8,0M161.30,90.02a2.4,2.4 0 1,0 4.8,0a2.4,2.4 0 1,0 -4.8,0M162.70,87.17a2.4,2.4 0 1,0 4.8,0a2.4,2.4 0 1,0 -4.8,0M164.10,86.54a2.4,2.4 0 1,0 4.8,0a2.4,2.4 0 1,0 -4.8,0M165.50,88.45a2.4,2.4 0 1,0 4.8,0a2.4,2.4 0 1,0 -4.8,0M166.90,93.86a2.4,2.4 0 1,0 4.8,0a2.4,2.4 0 1,0 -4.8,0M168.30,100.38a2.4,2.4 0 1,0 4.8,0a2.4,2.4 0 1,0 -4.8,0M169.70,107.29a2.4,2.4 0 1,0 4.8,0a2.4,2.4 0 1,0 -4.8,0M171.10,114.35a2.4,2.4 0 1,0 4.8,0a2.4,2.4 0 1,0 -4.8,0M172.50,118.39a2.4,2.4 0 1,0 4.8,0a2.4,2.4 0 1,0 -4.8,0M173.90,120.56a2.4,2.4 0 1,0 4.8,0a2.4,2.4 0 1,0 -4.8,0M175.30,119.17a2.4,2.4 0 1,0 4.8,0a2.4,2.4 0 1,0 -4.8,0M176.70,115.38a2.4,2.4 0 1,0 4.8,0a2.4,2.4 0 1,0 -4.8,0M178.10,111.26a2.4,2.4 0 1,0 4.8,0a2.4,2.4 0 1,0 -4.8,0M179.50,106.08a2.4,2.4 0 1,0 4.8,0a2.4,2.4 0 1,0 -4.8,0M180.90,102.34a2.4,2.4 0 1,0 4.8,0a2.4,2.4 0 1,0 -4.8,0M182.30,100.31a2.4,2.4 0 1,0 4.8,0a2.4,2.4 0 1,0 -4.8,0M183.70,98.99a2.4,2.4 0 1,0 4.8,0a2.4,2.4 0 1,0 -4.8,0M185.10,99.19a2.4,2.4 0 1,0 4.8,0a2.4,2.4 0 1,0 -4.8,0M186.50,101.58a2.4,2.4 0 1,0 4.8,0a2.4,2.4 0 1,0 -4.8,0M187.90,104.49a2.4,2.4 0 1,0 4.8,0a2.4,2.4 0 1,0 -4.8,0M189.30,107.75a2.4,2.4 0 1,0 4.8,0a2.4,2.4 0 1,0 -4.8,0M190.70,111.28a2.4,2.4 0 1,0 4.8,0a2.4,2.4 0 1,0 -4.8,0M192.10,113.80a2.4,2.4 0 1,0 4.8,0a2.4,2.4 0 1,0 -4.8,0M193.50,115.36a2.4,2.4 0 1,0 4.8,0a2.4,2.4 0 1,0 -4.8,0M194.90,116.66a2.4,2.4 0 1,0 4.8,0a2.4,2.4 0 1,0 -4.8,0M196.30,117.46a2.4,2.4 0 1,0 4.8,0a2.4,2.4 0 1,0 -4.8,0M197.70,117.57a2.4,2.4 0 1,0 4.8,0a2.4,2.4 0 1,0 -4.8,0M199.10,117.29a2.4,2.4 0 1,0 4.8,0a2.4,2.4 0 1,0 -4.8,0M200.50,116.80a2.4,2.4 0 1,0 4.8,0a2.4,2.4 0 1,0 -4.8,0M201.90,116.24a2.4,2.4 0 1,0 4.8,0a2.4,2.4 0 1,0 -4.8,0M203.30,115.70a2.4,2.4 0 1,0 4.8,0a2.4,2.4 0 1,0 -4.8,0M204.70,115.08a2.4,2.4 0 1,0 4.8,0a2.4,2.4 0 1,0 -4.8,0M206.10,114.35a2.4,2.4 0 1,0 4.8,0a2.4,2.4 0 1,0 -4.8,0M207.50,113.72a2.4,2.4 0 1,0 4.8,0a2.4,2.4 0 1,0 -4.8,0M208.90,113.41a2.4,2.4 0 1,0 4.8,0a2.4,2.4 0 1,0 -4.8,0M210.30,113.40a2.4,2.4 0 1,0 4.8,0a2.4,2.4 0 1,0 -4.8,0M211.70,113.40a2.4,2.4 0 1,0 4.8,0a2.4,2.4 0 1,0 -4.8,0M213.10,113.40a2.4,2.4 0 1,0 4.8,0a2.4,2.4 0 1,0 -4.8,0M214.50,113.40a2.4,2.4 0 1,0 4.8,0a2.4,2.4 0 1,0 -4.8,0M215.90,113.70a2.4,2.4 0 1,0 4.8,0a2.4,2.4 0 1,0 -4.8,0M217.30,115.06a2.4,2.4 0 1,0 4.8,0a2.4,2.4 0 1,0 -4.8,0M218.70,116.89a2.4,2.4 0 1,0 4.8,0a2.4,2.4 0 1,0 -4.8,0M220.10,118.60a2.4,2.4 0 1,0 4.8,0a2.4,2.4 0 1,0 -4.8,0M221.50,120.55a2.4,2.4 0 1,0 4.8,0a2.4,2.4 0 1,0 -4.8,0M222.90,122.49a2.4,2.4 0 1,0 4.8,0a2.4,2.4 0 1,0 -4.8,0M224.30,123.90a2.4,2.4 0 1,0 4.8,0a2.4,2.4 0 1,0 -4.8,0M225.70,124.84a2.4,2.4 0 1,0 4.8,0a2.4,2.4 0 1,0 -4.8,0M227.10,125.50a2.4,2.4 0 1,0 4.8,0a2.4,2.4 0 1,0 -4.8,0M228.50,125.48a2.4,2.4 0 1,0 4.8,0a2.4,2.4 0 1,0 -4.8,0M229.90,124.70a2.4,2.4 0 1,0 4.8,0a2.4,2.4 0 1,0 -4.8,0M231.30,123.58a2.4,2.4 0 1,0 4.8,0a2.4,2.4 0 1,0 -4.8,0M232.70,122.58a2.4,2.4 0 1,0 4.8,0a2.4,2.4 0 1,0 -4.8,0M234.10,121.59a2.4,2.4 0 1,0 4.8,0a2.4,2.4 0 1,0 -4.8,0M235.50,120.56a2.4,2.4 0 1,0 4.8,0a2.4,2.4 0 1,0 -4.8,0M236.90,119.70a2.4,2.4 0 1,0 4.8,0a2.4,2.4 0 1,0 -4.8,0M238.30,119.20a2.4,2.4 0 1,0 4.8,0a2.4,2.4 0 1,0 -4.8,0M239.70,118.97a2.4,2.4 0 1,0 4.8,0a2.4,2.4 0 1,0 -4.8,0M241.10,118.79a2.4,2.4 0 1,0 4.8,0a2.4,2.4 0 1,0 -4.8,0M242.50,118.66a2.4,2.4 0 1,0 4.8,0a2.4,2.4 0 1,0 -4.8,0M243.90,118.60a2.4,2.4 0 1,0 4.8,0a2.4,2.4 0 1,0 -4.8,0M245.30,118.74a2.4,2.4 0 1,0 4.8,0a2.4,2.4 0 1,0 -4.8,0M246.70,119.24a2.4,2.4 0 1,0 4.8,0a2.4,2.4 0 1,0 -4.8,0M248.10,119.94a2.4,2.4 0 1,0 4.8,0a2.4,2.4 0 1,0 -4.8,0M249.50,120.67a2.4,2.4 0 1,0 4.8,0a2.4,2.4 0 1,0 -4.8,0M250.90,121.32a2.4,2.4 0 1,0 4.8,0a2.4,2.4 0 1,0 -4.8,0M252.30,122.04a2.4,2.4 0 1,0 4.8,0a2.4,2.4 0 1,0 -4.8,0M253.70,122.80a2.4,2.4 0 1,0 4.8,0a2.4,2.4 0 1,0 -4.8,0M255.10,123.55a2.4,2.4 0 1,0 4.8,0a2.4,2.4 0 1,0 -4.8,0M256.50,124.27a2.4,2.4 0 1,0 4.8,0a2.4,2.4 0 1,0 -4.8,0M257.90,124.94a2.4,2.4 0 1,0 4.8,0a2.4,2.4 0 1,0 -4.8,0M259.30,125.70a2.4,2.4 0 1,0 4.8,0a2.4,2.4 0 1,0 -4.8,0M260.70,126.44a2.4,2.4 0 1,0 4.8,0a2.4,2.4 0 1,0 -4.8,0M262.10,127.01a2.4,2.4 0 1,0 4.8,0a2.4,2.4 0 1,0 -4.8,0M263.50,127.29a2.4,2.4 0 1,0 4.8,0a2.4,2.4 0 1,0 -4.8,0M264.90,127.12a2.4,2.4 0 1,0 4.8,0a2.4,2.4 0 1,0 -4.8,0M266.30,126.47a2.4,2.4 0 1,0 4.8,0a2.4,2.4 0 1,0 -4.8,0M267.70,125.58a2.4,2.4 0 1,0 4.8,0a2.4,2.4 0 1,0 -4.8,0M269.10,124.68a2.4,2.4 0 1,0 4.8,0a2.4,2.4 0 1,0 -4.8,0M270.50,123.96a2.4,2.4 0 1,0 4.8,0a2.4,2.4 0 1,0 -4.8,0M271.90,123.21a2.4,2.4 0 1,0 4.8,0a2.4,2.4 0 1,0 -4.8,0M273.30,122.44a2.4,2.4 0 1,0 4.8,0a2.4,2.4 0 1,0 -4.8,0M274.70,121.75a2.4,2.4 0 1,0 4.8,0a2.4,2.4 0 1,0 -4.8,0M276.10,121.27a2.4,2.4 0 1,0 4.8,0a2.4,2.4 0 1,0 -4.8,0M277.50,121.10a2.4,2.4 0 1,0 4.8,0a2.4,2.4 0 1,0 -4.8,0M278.90,121.46a2.4,2.4 0 1,0 4.8,0a2.4,2.4 0 1,0 -4.8,0M280.30,122.29a2.4,2.4 0 1,0 4.8,0a2.4,2.4 0 1,0 -4.8,0M281.70,123.36a2.4,2.4 0 1,0 4.8,0a2.4,2.4 0 1,0 -4.8,0M283.10,124.45a2.4,2.4 0 1,0 4.8,0a2.4,2.4 0 1,0 -4.8,0M284.50,125.52a2.4,2.4 0 1,0 4.8,0a2.4,2.4 0 1,0 -4.8,0M285.90,126.87a2.4,2.4 0 1,0 4.8,0a2.4,2.4 0 1,0 -4.8,0M287.30,128.05a2.4,2.4 0 1,0 4.8,0a2.4,2.4 0 1,0 -4.8,0M288.70,128.50a2.4,2.4 0 1,0 4.8,0a2.4,2.4 0 1,0 -4.8,0M290.10,127.97a2.4,2.4 0 1,0 4.8,0a2.4,2.4 0 1,0 -4.8,0M291.50,126.81a2.4,2.4 0 1,0 4.8,0a2.4,2.4 0 1,0 -4.8,0M292.90,125.43a2.4,2.4 0 1,0 4.8,0a2.4,2.4 0 1,0 -4.8,0M294.30,124.12a2.4,2.4 0 1,0 4.8,0a2.4,2.4 0 1,0 -4.8,0M295.70,122.41a2.4,2.4 0 1,0 4.8,0a2.4,2.4 0 1,0 -4.8,0M297.10,120.55a2.4,2.4 0 1,0 4.8,0a2.4,2.4 0 1,0 -4.8,0M298.50,118.97a2.4,2.4 0 1,0 4.8,0a2.4,2.4 0 1,0 -4.8,0M299.90,118.08a2.4,2.4 0 1,0 4.8,0a2.4,2.4 0 1,0 -4.8,0M301.30,118.16a2.4,2.4 0 1,0 4.8,0a2.4,2.4 0 1,0 -4.8,0M302.70,118.89a2.4,2.4 0 1,0 4.8,0a2.4,2.4 0 1,0 -4.8,0M304.10,119.91a2.4,2.4 0 1,0 4.8,0a2.4,2.4 0 1,0 -4.8,0M305.50,120.85a2.4,2.4 0 1,0 4.8,0a2.4,2.4 0 1,0 -4.8,0M306.90,121.52a2.4,2.4 0 1,0 4.8,0a2.4,2.4 0 1,0 -4.8,0M308.30,122.20a2.4,2.4 0 1,0 4.8,0a2.4,2.4 0 1,0 -4.8,0M309.70,122.73a2.4,2.4 0 1,0 4.8,0a2.4,2.4 0 1,0 -4.8,0M311.10,122.90a2.4,2.4 0 1,0 4.8,0a2.4,2.4 0 1,0 -4.8,0M312.50,122.76a2.4,2.4 0 1,0 4.8,0a2.4,2.4 0 1,0 -4.8,0M313.90,122.48a2.4,2.4 0 1,0 4.8,0a2.4,2.4 0 1,0 -4.8,0M315.30,122.13a2.4,2.4 0 1,0 4.8,0a2.4,2.4 0 1,0 -4.8,0M316.70,121.78a2.4,2.4 0 1,0 4.8,0a2.4,2.4 0 1,0 -4.8,0M318.10,121.47a2.4,2.4 0 1,0 4.8,0a2.4,2.4 0 1,0 -4.8,0M319.50,121.08a2.4,2.4 0 1,0 4.8,0a2.4,2.4 0 1,0 -4.8,0M320.90,120.72a2.4,2.4 0 1,0 4.8,0a2.4,2.4 0 1,0 -4.8,0M322.30,120.46a2.4,2.4 0 1,0 4.8,0a2.4,2.4 0 1,0 -4.8,0M323.70,120.40a2.4,2.4 0 1,0 4.8,0a2.4,2.4 0 1,0 -4.8,0M325.10,120.50a2.4,2.4 0 1,0 4.8,0a2.4,2.4 0 1,0 -4.8,0M326.50,120.72a2.4,2.4 0 1,0 4.8,0a2.4,2.4 0 1,0 -4.8,0M327.90,121.06a2.4,2.4 0 1,0 4.8,0a2.4,2.4 0 1,0 -4.8,0M329.30,121.53a2.4,2.4 0 1,0 4.8,0a2.4,2.4 0 1,0 -4.8,0M330.70,122.12a2.4,2.4 0 1,0 4.8,0a2.4,2.4 0 1,0 -4.8,0M332.10,122.84a2.4,2.4 0 1,0 4.8,0a2.4,2.4 0 1,0 -4.8,0" fill="#ff0000"/>
<text x="0.67" y="13.6" font-size="16.5" textLength="22.26" lengthAdjust="spacingAndGlyphs">(a)</text>
<text x="204.8" y="34" font-size="25.2" textLength="118.09" lengthAdjust="spacingAndGlyphs">PGG(Exp)</text>
<text transform="translate(16,167.44) rotate(-90)" font-size="17.5" textLength="94.36" lengthAdjust="spacingAndGlyphs">Electric field</text>
<text x="137.55" y="258.6" font-size="17.5" textLength="114.15" lengthAdjust="spacingAndGlyphs">Delay time(ps)</text>
<path d="M255.9,55H296.5" stroke="#000" stroke-width="1.5"/>
<rect x="273.95" y="52.75" width="4.5" height="4.5" fill="#000"/>
<text x="300.22" y="60.8" font-size="17.5">0°</text>
<path d="M255.9,76.5H296.5" stroke="#0000ff" stroke-width="1.5"/>
<path d="M276.20,73.44L279.20,78.54L273.20,78.54z" fill="#0000ff"/>
<text x="300.5" y="82.3" font-size="17.5">45°</text>
<path d="M255.9,98.1H296.5" stroke="#d82020" stroke-width="1.5"/>
<circle cx="276.2" cy="98.1" r="2.5" fill="#ff0000"/>
<text x="300.08" y="103.9" font-size="17.5">90°</text>
<path d="M397.5,13.1V219.5H676.3M397.5,13.1h4.5M397.5,64.7h4.5M397.5,116.3h4.5M397.5,167.9h4.5M397.5,219.5h4.5M397.5,38.9h2.5M397.5,90.5h2.5M397.5,142.1h2.5M397.5,193.7h2.5M397.5,219.5v-4.5M467.2,219.5v-4.5M536.9,219.5v-4.5M606.6,219.5v-4.5M676.3,219.5v-4.5M432.35,219.5v-2.5M502.05,219.5v-2.5M571.75,219.5v-2.5M641.45,219.5v-2.5" stroke="#404040" stroke-width="1.15" fill="none"/>
<text x="368.56" y="18.3" font-size="17.5">1.0</text>
<text x="368.61" y="69.9" font-size="17.5">0.5</text>
<text x="368.56" y="121.5" font-size="17.5">0.0</text>
<text x="362.78" y="173.1" font-size="17.5">-0.5</text>
<text x="362.73" y="224.7" font-size="17.5">-1.0</text>
<text x="392.63" y="238.1" font-size="17.5">0</text>
<text x="462.33" y="238.1" font-size="17.5">2</text>
<text x="532.09" y="238.1" font-size="17.5">4</text>
<text x="601.67" y="238.1" font-size="17.5">6</text>
<text x="671.43" y="238.1" font-size="17.5">8</text>
<path d="M397.50,116.30 L398.90,116.30 L400.30,116.30 L401.70,116.30 L403.10,116.30 L404.50,116.30 L405.90,116.30 L407.30,116.30 L408.70,116.30 L410.10,116.30 L411.50,116.30 L412.90,116.30 L414.30,116.30 L415.70,116.30 L417.10,116.30 L418.50,116.30 L419.90,116.30 L421.30,116.31 L422.70,116.33 L424.10,116.37 L425.50,116.41 L426.90,116.47 L428.30,116.53 L429.70,116.59 L431.10,116.65 L432.50,116.71 L433.90,116.80 L435.30,116.92 L436.70,117.14 L438.10,117.68 L439.50,118.48 L440.90,119.43 L442.30,120.58 L443.70,122.10 L445.10,123.93 L446.50,126.00 L447.90,128.53 L449.30,131.63 L450.70,135.10 L452.10,138.74 L453.50,142.66 L454.90,146.95 L456.30,151.19 L457.70,155.36 L459.10,159.51 L460.50,164.02 L461.90,168.28 L463.30,170.66 L464.70,168.51 L466.10,162.11 L467.50,155.84 L468.90,148.96 L470.30,143.54 L471.70,138.70 L473.10,135.04 L474.50,134.22 L475.90,135.93 L477.30,138.08 L478.70,139.86 L480.10,141.35 L481.50,141.14 L482.90,138.21 L484.30,132.82 L485.70,123.47 L487.10,111.04 L488.50,95.31 L489.90,78.03 L491.30,60.09 L492.70,43.29 L494.10,29.90 L495.50,21.76 L496.90,18.28 L498.30,16.17 L499.70,16.05 L501.10,18.19 L502.50,21.71 L503.90,29.10 L505.30,42.46 L506.70,54.03 L508.10,65.62 L509.50,78.80 L510.90,93.45 L512.30,105.75 L513.70,113.73 L515.10,118.55 L516.50,121.41 L517.90,123.36 L519.30,123.88 L520.70,123.21 L522.10,121.88 L523.50,120.20 L524.90,118.50 L526.30,116.46 L527.70,114.01 L529.10,111.85 L530.50,110.52 L531.90,109.45 L533.30,108.65 L534.70,108.30 L536.10,108.36 L537.50,108.51 L538.90,108.74 L540.30,109.22 L541.70,110.03 L543.10,111.05 L544.50,112.20 L545.90,113.91 L547.30,116.24 L548.70,118.55 L550.10,120.20 L551.50,121.01 L552.90,121.66 L554.30,122.05 L555.70,121.95 L557.10,120.96 L558.50,119.42 L559.90,117.76 L561.30,115.49 L562.70,112.85 L564.10,110.71 L565.50,109.41 L566.90,108.29 L568.30,107.60 L569.70,107.62 L571.10,108.46 L572.50,109.77 L573.90,111.21 L575.30,113.14 L576.70,115.46 L578.10,117.62 L579.50,119.44 L580.90,121.33 L582.30,122.92 L583.70,123.82 L585.10,123.90 L586.50,123.90 L587.90,123.90 L589.30,123.90 L590.70,123.87 L592.10,123.58 L593.50,123.09 L594.90,122.54 L596.30,121.85 L597.70,120.95 L599.10,120.02 L600.50,119.23 L601.90,118.39 L603.30,117.54 L604.70,116.80 L606.10,116.28 L607.50,116.10 L608.90,116.69 L610.30,118.01 L611.70,119.65 L613.10,121.23 L614.50,122.55 L615.90,124.05 L617.30,125.56 L618.70,126.85 L620.10,127.70 L621.50,127.87 L622.90,127.30 L624.30,126.22 L625.70,124.92 L627.10,123.66 L628.50,122.35 L629.90,120.72 L631.30,119.19 L632.70,118.18 L634.10,118.00 L635.50,118.00 L636.90,118.00 L638.30,118.00 L639.70,118.00 L641.10,118.01 L642.50,118.61 L643.90,119.76 L645.30,120.95 L646.70,121.66 L648.10,121.61 L649.50,121.22 L650.90,120.66 L652.30,120.03 L653.70,119.47 L655.10,119.08 L656.50,118.74 L657.90,118.41 L659.30,118.10 L660.70,117.82 L662.10,117.58 L663.50,117.40 L664.90,117.27 L666.30,117.16 L667.70,117.05 L669.10,116.96 L670.50,116.87 L671.90,116.80 L673.30,116.75 L674.70,116.71 L676.10,116.70" stroke="#000" stroke-width="1.2" fill="none" stroke-linejoin="round"/>
<path d="M395.45,114.25h4.1v4.1h-4.1zM396.85,114.25h4.1v4.1h-4.1zM398.25,114.25h4.1v4.1h-4.1zM399.65,114.25h4.1v4.1h-4.1zM401.05,114.25h4.1v4.1h-4.1zM402.45,114.25h4.1v4.1h-4.1zM403.85,114.25h4.1v4.1h-4.1zM405.25,114.25h4.1v4.1h-4.1zM406.65,114.25h4.1v4.1h-4.1zM408.05,114.25h4.1v4.1h-4.1zM409.45,114.25h4.1v4.1h-4.1zM410.85,114.25h4.1v4.1h-4.1zM412.25,114.25h4.1v4.1h-4.1zM413.65,114.25h4.1v4.1h-4.1zM415.05,114.25h4.1v4.1h-4.1zM416.45,114.25h4.1v4.1h-4.1zM417.85,114.25h4.1v4.1h-4.1zM419.25,114.26h4.1v4.1h-4.1zM420.65,114.28h4.1v4.1h-4.1zM422.05,114.32h4.1v4.1h-4.1zM423.45,114.36h4.1v4.1h-4.1zM424.85,114.42h4.1v4.1h-4.1zM426.25,114.48h4.1v4.1h-4.1zM427.65,114.54h4.1v4.1h-4.1zM429.05,114.60h4.1v4.1h-4.1zM430.45,114.66h4.1v4.1h-4.1zM431.85,114.75h4.1v4.1h-4.1zM433.25,114.87h4.1v4.1h-4.1zM434.65,115.09h4.1v4.1h-4.1zM436.05,115.63h4.1v4.1h-4.1zM437.45,116.43h4.1v4.1h-4.1zM438.85,117.38h4.1v4.1h-4.1zM440.25,118.53h4.1v4.1h-4.1zM441.65,120.05h4.1v4.1h-4.1zM443.05,121.88h4.1v4.1h-4.1zM444.45,123.95h4.1v4.1h-4.1zM445.85,126.48h4.1v4.1h-4.1zM447.25,129.58h4.1v4.1h-4.1zM448.65,133.05h4.1v4.1h-4.1zM450.05,136.69h4.1v4.1h-4.1zM451.45,140.61h4.1v4.1h-4.1zM452.85,144.90h4.1v4.1h-4.1zM454.25,149.14h4.1v4.1h-4.1zM455.65,153.31h4.1v4.1h-4.1zM457.05,157.46h4.1v4.1h-4.1zM458.45,161.97h4.1v4.1h-4.1zM459.85,166.23h4.1v4.1h-4.1zM461.25,168.61h4.1v4.1h-4.1zM462.65,166.46h4.1v4.1h-4.1zM464.05,160.06h4.1v4.1h-4.1zM465.45,153.79h4.1v4.1h-4.1zM466.85,146.91h4.1v4.1h-4.1zM468.25,141.49h4.1v4.1h-4.1zM469.65,136.65h4.1v4.1h-4.1zM471.05,132.99h4.1v4.1h-4.1zM472.45,132.17h4.1v4.1h-4.1zM473.85,133.88h4.1v4.1h-4.1zM475.25,136.03h4.1v4.1h-4.1zM476.65,137.81h4.1v4.1h-4.1zM478.05,139.30h4.1v4.1h-4.1zM479.45,139.09h4.1v4.1h-4.1zM480.85,136.16h4.1v4.1h-4.1zM482.25,130.77h4.1v4.1h-4.1zM483.65,121.42h4.1v4.1h-4.1zM485.05,108.99h4.1v4.1h-4.1zM486.45,93.26h4.1v4.1h-4.1zM487.85,75.98h4.1v4.1h-4.1zM489.25,58.04h4.1v4.1h-4.1zM490.65,41.24h4.1v4.1h-4.1zM492.05,27.85h4.1v4.1h-4.1zM493.45,19.71h4.1v4.1h-4.1zM494.85,16.23h4.1v4.1h-4.1zM496.25,14.12h4.1v4.1h-4.1zM497.65,14.00h4.1v4.1h-4.1zM499.05,16.14h4.1v4.1h-4.1zM500.45,19.66h4.1v4.1h-4.1zM501.85,27.05h4.1v4.1h-4.1zM503.25,40.41h4.1v4.1h-4.1zM504.65,51.98h4.1v4.1h-4.1zM506.05,63.57h4.1v4.1h-4.1zM507.45,76.75h4.1v4.1h-4.1zM508.85,91.40h4.1v4.1h-4.1zM510.25,103.70h4.1v4.1h-4.1zM511.65,111.68h4.1v4.1h-4.1zM513.05,116.50h4.1v4.1h-4.1zM514.45,119.36h4.1v4.1h-4.1zM515.85,121.31h4.1v4.1h-4.1zM517.25,121.83h4.1v4.1h-4.1zM518.65,121.16h4.1v4.1h-4.1zM520.05,119.83h4.1v4.1h-4.1zM521.45,118.15h4.1v4.1h-4.1zM522.85,116.45h4.1v4.1h-4.1zM524.25,114.41h4.1v4.1h-4.1zM525.65,111.96h4.1v4.1h-4.1zM527.05,109.80h4.1v4.1h-4.1zM528.45,108.47h4.1v4.1h-4.1zM529.85,107.40h4.1v4.1h-4.1zM531.25,106.60h4.1v4.1h-4.1zM532.65,106.25h4.1v4.1h-4.1zM534.05,106.31h4.1v4.1h-4.1zM535.45,106.46h4.1v4.1h-4.1zM536.85,106.69h4.1v4.1h-4.1zM538.25,107.17h4.1v4.1h-4.1zM539.65,107.98h4.1v4.1h-4.1zM541.05,109.00h4.1v4.1h-4.1zM542.45,110.15h4.1v4.1h-4.1zM543.85,111.86h4.1v4.1h-4.1zM545.25,114.19h4.1v4.1h-4.1zM546.65,116.50h4.1v4.1h-4.1zM548.05,118.15h4.1v4.1h-4.1zM549.45,118.96h4.1v4.1h-4.1zM550.85,119.61h4.1v4.1h-4.1zM552.25,120.00h4.1v4.1h-4.1zM553.65,119.90h4.1v4.1h-4.1zM555.05,118.91h4.1v4.1h-4.1zM556.45,117.37h4.1v4.1h-4.1zM557.85,115.71h4.1v4.1h-4.1zM559.25,113.44h4.1v4.1h-4.1zM560.65,110.80h4.1v4.1h-4.1zM562.05,108.66h4.1v4.1h-4.1zM563.45,107.36h4.1v4.1h-4.1zM564.85,106.24h4.1v4.1h-4.1zM566.25,105.55h4.1v4.1h-4.1zM567.65,105.57h4.1v4.1h-4.1zM569.05,106.41h4.1v4.1h-4.1zM570.45,107.72h4.1v4.1h-4.1zM571.85,109.16h4.1v4.1h-4.1zM573.25,111.09h4.1v4.1h-4.1zM574.65,113.41h4.1v4.1h-4.1zM576.05,115.57h4.1v4.1h-4.1zM577.45,117.39h4.1v4.1h-4.1zM578.85,119.28h4.1v4.1h-4.1zM580.25,120.87h4.1v4.1h-4.1zM581.65,121.77h4.1v4.1h-4.1zM583.05,121.85h4.1v4.1h-4.1zM584.45,121.85h4.1v4.1h-4.1zM585.85,121.85h4.1v4.1h-4.1zM587.25,121.85h4.1v4.1h-4.1zM588.65,121.82h4.1v4.1h-4.1zM590.05,121.53h4.1v4.1h-4.1zM591.45,121.04h4.1v4.1h-4.1zM592.85,120.49h4.1v4.1h-4.1zM594.25,119.80h4.1v4.1h-4.1zM595.65,118.90h4.1v4.1h-4.1zM597.05,117.97h4.1v4.1h-4.1zM598.45,117.18h4.1v4.1h-4.1zM599.85,116.34h4.1v4.1h-4.1zM601.25,115.49h4.1v4.1h-4.1zM602.65,114.75h4.1v4.1h-4.1zM604.05,114.23h4.1v4.1h-4.1zM605.45,114.05h4.1v4.1h-4.1zM606.85,114.64h4.1v4.1h-4.1zM608.25,115.96h4.1v4.1h-4.1zM609.65,117.60h4.1v4.1h-4.1zM611.05,119.18h4.1v4.1h-4.1zM612.45,120.50h4.1v4.1h-4.1zM613.85,122.00h4.1v4.1h-4.1zM615.25,123.51h4.1v4.1h-4.1zM616.65,124.80h4.1v4.1h-4.1zM618.05,125.65h4.1v4.1h-4.1zM619.45,125.82h4.1v4.1h-4.1zM620.85,125.25h4.1v4.1h-4.1zM622.25,124.17h4.1v4.1h-4.1zM623.65,122.87h4.1v4.1h-4.1zM625.05,121.61h4.1v4.1h-4.1zM626.45,120.30h4.1v4.1h-4.1zM627.85,118.67h4.1v4.1h-4.1zM629.25,117.14h4.1v4.1h-4.1zM630.65,116.13h4.1v4.1h-4.1zM632.05,115.95h4.1v4.1h-4.1zM633.45,115.95h4.1v4.1h-4.1zM634.85,115.95h4.1v4.1h-4.1zM636.25,115.95h4.1v4.1h-4.1zM637.65,115.95h4.1v4.1h-4.1zM639.05,115.96h4.1v4.1h-4.1zM640.45,116.56h4.1v4.1h-4.1zM641.85,117.71h4.1v4.1h-4.1zM643.25,118.90h4.1v4.1h-4.1zM644.65,119.61h4.1v4.1h-4.1zM646.05,119.56h4.1v4.1h-4.1zM647.45,119.17h4.1v4.1h-4.1zM648.85,118.61h4.1v4.1h-4.1zM650.25,117.98h4.1v4.1h-4.1zM651.65,117.42h4.1v4.1h-4.1zM653.05,117.03h4.1v4.1h-4.1zM654.45,116.69h4.1v4.1h-4.1zM655.85,116.36h4.1v4.1h-4.1zM657.25,116.05h4.1v4.1h-4.1zM658.65,115.77h4.1v4.1h-4.1zM660.05,115.53h4.1v4.1h-4.1zM661.45,115.35h4.1v4.1h-4.1zM662.85,115.22h4.1v4.1h-4.1zM664.25,115.11h4.1v4.1h-4.1zM665.65,115.00h4.1v4.1h-4.1zM667.05,114.91h4.1v4.1h-4.1zM668.45,114.82h4.1v4.1h-4.1zM669.85,114.75h4.1v4.1h-4.1zM671.25,114.70h4.1v4.1h-4.1zM672.65,114.66h4.1v4.1h-4.1zM674.05,114.65h4.1v4.1h-4.1z" fill="#000"/>
<path d="M397.50,116.00 L398.90,116.00 L400.30,116.00 L401.70,116.00 L403.10,116.00 L404.50,116.00 L405.90,116.00 L407.30,116.00 L408.70,116.00 L410.10,116.00 L411.50,116.00 L412.90,116.00 L414.30,116.00 L415.70,116.00 L417.10,116.00 L418.50,116.00 L419.90,116.00 L421.30,116.01 L422.70,116.03 L424.10,116.06 L425.50,116.11 L426.90,116.16 L428.30,116.22 L429.70,116.29 L431.10,116.36 L432.50,116.46 L433.90,116.59 L435.30,116.78 L436.70,117.22 L438.10,118.05 L439.50,119.16 L440.90,120.41 L442.30,121.93 L443.70,123.91 L445.10,126.18 L446.50,128.60 L447.90,131.28 L449.30,134.26 L450.70,137.52 L452.10,141.10 L453.50,145.30 L454.90,149.69 L456.30,153.88 L457.70,158.11 L459.10,162.77 L460.50,168.12 L461.90,172.74 L463.30,175.80 L464.70,174.42 L466.10,171.22 L467.50,166.58 L468.90,158.99 L470.30,150.99 L471.70,142.80 L473.10,132.49 L474.50,121.94 L475.90,115.93 L477.30,111.90 L478.70,108.92 L480.10,106.20 L481.50,103.71 L482.90,100.39 L484.30,95.47 L485.70,89.73 L487.10,83.05 L488.50,74.91 L489.90,67.51 L491.30,61.61 L492.70,57.97 L494.10,55.70 L495.50,54.45 L496.90,53.55 L498.30,53.20 L499.70,53.93 L501.10,55.72 L502.50,58.87 L503.90,64.56 L505.30,71.98 L506.70,78.46 L508.10,84.33 L509.50,89.79 L510.90,96.26 L512.30,103.76 L513.70,111.61 L515.10,116.03 L516.50,119.11 L517.90,119.72 L519.30,118.79 L520.70,117.21 L522.10,115.46 L523.50,113.61 L524.90,111.12 L526.30,108.75 L527.70,107.33 L529.10,107.36 L530.50,108.07 L531.90,109.08 L533.30,110.06 L534.70,111.08 L536.10,112.18 L537.50,113.19 L538.90,113.96 L540.30,114.66 L541.70,115.25 L543.10,115.65 L544.50,115.85 L545.90,116.03 L547.30,116.16 L548.70,116.26 L550.10,116.30 L551.50,116.30 L552.90,116.30 L554.30,116.30 L555.70,116.30 L557.10,116.30 L558.50,116.30 L559.90,116.35 L561.30,116.46 L562.70,116.61 L564.10,116.76 L565.50,116.87 L566.90,116.90 L568.30,116.82 L569.70,116.66 L571.10,116.49 L572.50,116.35 L573.90,116.30 L575.30,116.30 L576.70,116.30 L578.10,116.30 L579.50,116.30 L580.90,116.31 L582.30,116.77 L583.70,117.75 L585.10,118.97 L586.50,120.14 L587.90,121.00 L589.30,121.72 L590.70,122.44 L592.10,123.05 L593.50,123.47 L594.90,123.59 L596.30,123.31 L597.70,122.68 L599.10,121.85 L600.50,120.95 L601.90,120.12 L603.30,119.49 L604.70,119.21 L606.10,119.39 L607.50,119.98 L608.90,120.84 L610.30,121.79 L611.70,122.68 L613.10,123.35 L614.50,123.73 L615.90,124.07 L617.30,124.38 L618.70,124.62 L620.10,124.77 L621.50,124.77 L622.90,124.27 L624.30,123.33 L625.70,122.18 L627.10,121.05 L628.50,120.17 L629.90,119.78 L631.30,119.61 L632.70,119.48 L634.10,119.36 L635.50,119.28 L636.90,119.22 L638.30,119.20 L639.70,119.27 L641.10,119.47 L642.50,119.75 L643.90,120.03 L645.30,120.27 L646.70,120.39 L648.10,120.37 L649.50,120.26 L650.90,120.08 L652.30,119.86 L653.70,119.64 L655.10,119.42 L656.50,119.25 L657.90,119.12 L659.30,119.01 L660.70,118.89 L662.10,118.78 L663.50,118.67 L664.90,118.57 L666.30,118.47 L667.70,118.38 L669.10,118.30 L670.50,118.22 L671.90,118.15 L673.30,118.09 L674.70,118.04 L676.10,118.00" stroke="#0000ff" stroke-width="1.2" fill="none" stroke-linejoin="round"/>
<path d="M397.50,113.20L400.35,117.87L394.65,117.87zM398.90,113.20L401.75,117.87L396.05,117.87zM400.30,113.20L403.15,117.87L397.45,117.87zM401.70,113.20L404.55,117.87L398.85,117.87zM403.10,113.20L405.95,117.87L400.25,117.87zM404.50,113.20L407.35,117.87L401.65,117.87zM405.90,113.20L408.75,117.87L403.05,117.87zM407.30,113.20L410.15,117.87L404.45,117.87zM408.70,113.20L411.55,117.87L405.85,117.87zM410.10,113.20L412.95,117.87L407.25,117.87zM411.50,113.20L414.35,117.87L408.65,117.87zM412.90,113.20L415.75,117.87L410.05,117.87zM414.30,113.20L417.15,117.87L411.45,117.87zM415.70,113.20L418.55,117.87L412.85,117.87zM417.10,113.20L419.95,117.87L414.25,117.87zM418.50,113.20L421.35,117.87L415.65,117.87zM419.90,113.20L422.75,117.87L417.05,117.87zM421.30,113.20L424.15,117.88L418.45,117.88zM422.70,113.22L425.55,117.90L419.85,117.90zM424.10,113.26L426.95,117.93L421.25,117.93zM425.50,113.30L428.35,117.98L422.65,117.98zM426.90,113.36L429.75,118.03L424.05,118.03zM428.30,113.42L431.15,118.09L425.45,118.09zM429.70,113.48L432.55,118.16L426.85,118.16zM431.10,113.55L433.95,118.23L428.25,118.23zM432.50,113.65L435.35,118.33L429.65,118.33zM433.90,113.79L436.75,118.46L431.05,118.46zM435.30,113.98L438.15,118.65L432.45,118.65zM436.70,114.41L439.55,119.09L433.85,119.09zM438.10,115.25L440.95,119.92L435.25,119.92zM439.50,116.35L442.35,121.03L436.65,121.03zM440.90,117.60L443.75,122.28L438.05,122.28zM442.30,119.13L445.15,123.80L439.45,123.80zM443.70,121.10L446.55,125.78L440.85,125.78zM445.10,123.38L447.95,128.05L442.25,128.05zM446.50,125.80L449.35,130.47L443.65,130.47zM447.90,128.47L450.75,133.15L445.05,133.15zM449.30,131.45L452.15,136.12L446.45,136.12zM450.70,134.71L453.55,139.39L447.85,139.39zM452.10,138.30L454.95,142.97L449.25,142.97zM453.50,142.50L456.35,147.17L450.65,147.17zM454.90,146.89L457.75,151.56L452.05,151.56zM456.30,151.08L459.15,155.75L453.45,155.75zM457.70,155.30L460.55,159.98L454.85,159.98zM459.10,159.96L461.95,164.64L456.25,164.64zM460.50,165.32L463.35,169.99L457.65,169.99zM461.90,169.94L464.75,174.61L459.05,174.61zM463.30,173.00L466.15,177.67L460.45,177.67zM464.70,171.61L467.55,176.29L461.85,176.29zM466.10,168.41L468.95,173.09L463.25,173.09zM467.50,163.77L470.35,168.45L464.65,168.45zM468.90,156.19L471.75,160.86L466.05,160.86zM470.30,148.18L473.15,152.86L467.45,152.86zM471.70,139.99L474.55,144.67L468.85,144.67zM473.10,129.69L475.95,134.36L470.25,134.36zM474.50,119.13L477.35,123.81L471.65,123.81zM475.90,113.12L478.75,117.80L473.05,117.80zM477.30,109.09L480.15,113.77L474.45,113.77zM478.70,106.12L481.55,110.79L475.85,110.79zM480.10,103.40L482.95,108.07L477.25,108.07zM481.50,100.90L484.35,105.58L478.65,105.58zM482.90,97.59L485.75,102.26L480.05,102.26zM484.30,92.67L487.15,97.34L481.45,97.34zM485.70,86.93L488.55,91.60L482.85,91.60zM487.10,80.24L489.95,84.92L484.25,84.92zM488.50,72.10L491.35,76.77L485.65,76.77zM489.90,64.70L492.75,69.37L487.05,69.37zM491.30,58.80L494.15,63.47L488.45,63.47zM492.70,55.16L495.55,59.83L489.85,59.83zM494.10,52.90L496.95,57.57L491.25,57.57zM495.50,51.65L498.35,56.32L492.65,56.32zM496.90,50.74L499.75,55.42L494.05,55.42zM498.30,50.40L501.15,55.07L495.45,55.07zM499.70,51.12L502.55,55.80L496.85,55.80zM501.10,52.91L503.95,57.59L498.25,57.59zM502.50,56.07L505.35,60.74L499.65,60.74zM503.90,61.75L506.75,66.43L501.05,66.43zM505.30,69.18L508.15,73.85L502.45,73.85zM506.70,75.65L509.55,80.33L503.85,80.33zM508.10,81.53L510.95,86.20L505.25,86.20zM509.50,86.99L512.35,91.66L506.65,91.66zM510.90,93.45L513.75,98.13L508.05,98.13zM512.30,100.96L515.15,105.63L509.45,105.63zM513.70,108.81L516.55,113.48L510.85,113.48zM515.10,113.23L517.95,117.90L512.25,117.90zM516.50,116.31L519.35,120.98L513.65,120.98zM517.90,116.92L520.75,121.59L515.05,121.59zM519.30,115.99L522.15,120.66L516.45,120.66zM520.70,114.40L523.55,119.08L517.85,119.08zM522.10,112.66L524.95,117.33L519.25,117.33zM523.50,110.80L526.35,115.48L520.65,115.48zM524.90,108.32L527.75,112.99L522.05,112.99zM526.30,105.95L529.15,110.62L523.45,110.62zM527.70,104.52L530.55,109.19L524.85,109.19zM529.10,104.55L531.95,109.23L526.25,109.23zM530.50,105.27L533.35,109.94L527.65,109.94zM531.90,106.28L534.75,110.95L529.05,110.95zM533.30,107.26L536.15,111.93L530.45,111.93zM534.70,108.27L537.55,112.95L531.85,112.95zM536.10,109.38L538.95,114.05L533.25,114.05zM537.50,110.39L540.35,115.06L534.65,115.06zM538.90,111.16L541.75,115.83L536.05,115.83zM540.30,111.86L543.15,116.53L537.45,116.53zM541.70,112.45L544.55,117.12L538.85,117.12zM543.10,112.84L545.95,117.52L540.25,117.52zM544.50,113.05L547.35,117.72L541.65,117.72zM545.90,113.22L548.75,117.90L543.05,117.90zM547.30,113.36L550.15,118.03L544.45,118.03zM548.70,113.45L551.55,118.13L545.85,118.13zM550.10,113.49L552.95,118.17L547.25,118.17zM551.50,113.50L554.35,118.17L548.65,118.17zM552.90,113.50L555.75,118.17L550.05,118.17zM554.30,113.50L557.15,118.17L551.45,118.17zM555.70,113.50L558.55,118.17L552.85,118.17zM557.10,113.50L559.95,118.17L554.25,118.17zM558.50,113.50L561.35,118.17L555.65,118.17zM559.90,113.54L562.75,118.22L557.05,118.22zM561.30,113.66L564.15,118.33L558.45,118.33zM562.70,113.81L565.55,118.48L559.85,118.48zM564.10,113.95L566.95,118.63L561.25,118.63zM565.50,114.06L568.35,118.73L562.65,118.73zM566.90,114.09L569.75,118.77L564.05,118.77zM568.30,114.02L571.15,118.69L565.45,118.69zM569.70,113.86L572.55,118.53L566.85,118.53zM571.10,113.68L573.95,118.36L568.25,118.36zM572.50,113.54L575.35,118.22L569.65,118.22zM573.90,113.50L576.75,118.17L571.05,118.17zM575.30,113.50L578.15,118.17L572.45,118.17zM576.70,113.50L579.55,118.17L573.85,118.17zM578.10,113.50L580.95,118.17L575.25,118.17zM579.50,113.50L582.35,118.17L576.65,118.17zM580.90,113.50L583.75,118.18L578.05,118.18zM582.30,113.97L585.15,118.64L579.45,118.64zM583.70,114.95L586.55,119.62L580.85,119.62zM585.10,116.16L587.95,120.84L582.25,120.84zM586.50,117.34L589.35,122.01L583.65,122.01zM587.90,118.19L590.75,122.87L585.05,122.87zM589.30,118.92L592.15,123.59L586.45,123.59zM590.70,119.63L593.55,124.31L587.85,124.31zM592.10,120.25L594.95,124.92L589.25,124.92zM593.50,120.67L596.35,125.34L590.65,125.34zM594.90,120.79L597.75,125.46L592.05,125.46zM596.30,120.50L599.15,125.18L593.45,125.18zM597.70,119.88L600.55,124.55L594.85,124.55zM599.10,119.05L601.95,123.72L596.25,123.72zM600.50,118.15L603.35,122.82L597.65,122.82zM601.90,117.31L604.75,121.99L599.05,121.99zM603.30,116.69L606.15,121.36L600.45,121.36zM604.70,116.40L607.55,121.07L601.85,121.07zM606.10,116.58L608.95,121.26L603.25,121.26zM607.50,117.18L610.35,121.85L604.65,121.85zM608.90,118.03L611.75,122.71L606.05,122.71zM610.30,118.99L613.15,123.66L607.45,123.66zM611.70,119.88L614.55,124.55L608.85,124.55zM613.10,120.54L615.95,125.22L610.25,125.22zM614.50,120.92L617.35,125.60L611.65,125.60zM615.90,121.27L618.75,125.94L613.05,125.94zM617.30,121.57L620.15,126.25L614.45,126.25zM618.70,121.81L621.55,126.49L615.85,126.49zM620.10,121.96L622.95,126.64L617.25,126.64zM621.50,121.97L624.35,126.64L618.65,126.64zM622.90,121.47L625.75,126.14L620.05,126.14zM624.30,120.53L627.15,125.20L621.45,125.20zM625.70,119.38L628.55,124.05L622.85,124.05zM627.10,118.25L629.95,122.92L624.25,122.92zM628.50,117.37L631.35,122.04L625.65,122.04zM629.90,116.97L632.75,121.65L627.05,121.65zM631.30,116.81L634.15,121.48L628.45,121.48zM632.70,116.67L635.55,121.35L629.85,121.35zM634.10,116.56L636.95,121.23L631.25,121.23zM635.50,116.47L638.35,121.15L632.65,121.15zM636.90,116.42L639.75,121.09L634.05,121.09zM638.30,116.40L641.15,121.07L635.45,121.07zM639.70,116.47L642.55,121.14L636.85,121.14zM641.10,116.67L643.95,121.34L638.25,121.34zM642.50,116.94L645.35,121.62L639.65,121.62zM643.90,117.23L646.75,121.90L641.05,121.90zM645.30,117.46L648.15,122.14L642.45,122.14zM646.70,117.59L649.55,122.26L643.85,122.26zM648.10,117.57L650.95,122.24L645.25,122.24zM649.50,117.46L652.35,122.13L646.65,122.13zM650.90,117.28L653.75,121.95L648.05,121.95zM652.30,117.06L655.15,121.73L649.45,121.73zM653.70,116.83L656.55,121.51L650.85,121.51zM655.10,116.62L657.95,121.29L652.25,121.29zM656.50,116.44L659.35,121.12L653.65,121.12zM657.90,116.32L660.75,120.99L655.05,120.99zM659.30,116.20L662.15,120.88L656.45,120.88zM660.70,116.09L663.55,120.76L657.85,120.76zM662.10,115.98L664.95,120.65L659.25,120.65zM663.50,115.87L666.35,120.54L660.65,120.54zM664.90,115.77L667.75,120.44L662.05,120.44zM666.30,115.67L669.15,120.34L663.45,120.34zM667.70,115.58L670.55,120.25L664.85,120.25zM669.10,115.49L671.95,120.17L666.25,120.17zM670.50,115.42L673.35,120.09L667.65,120.09zM671.90,115.35L674.75,120.02L669.05,120.02zM673.30,115.29L676.15,119.96L670.45,119.96zM674.70,115.24L677.55,119.91L671.85,119.91zM676.10,115.20L678.95,119.87L673.25,119.87z" fill="#0000ff"/>
<path d="M397.50,116.40 L398.90,116.40 L400.30,116.40 L401.70,116.40 L403.10,116.40 L404.50,116.40 L405.90,116.40 L407.30,116.40 L408.70,116.40 L410.10,116.40 L411.50,116.40 L412.90,116.40 L414.30,116.40 L415.70,116.40 L417.10,116.40 L418.50,116.40 L419.90,116.40 L421.30,116.41 L422.70,116.43 L424.10,116.47 L425.50,116.52 L426.90,116.60 L428.30,116.69 L429.70,116.80 L431.10,116.93 L432.50,117.15 L433.90,117.81 L435.30,118.68 L436.70,119.63 L438.10,120.82 L439.50,122.25 L440.90,124.00 L442.30,126.06 L443.70,128.44 L445.10,131.36 L446.50,134.83 L447.90,139.17 L449.30,143.80 L450.70,148.35 L452.10,153.67 L453.50,159.18 L454.90,165.17 L456.30,173.21 L457.70,182.94 L459.10,190.31 L460.50,195.64 L461.90,199.47 L463.30,201.50 L464.70,198.88 L466.10,193.48 L467.50,183.96 L468.90,167.33 L470.30,145.62 L471.70,125.26 L473.10,105.24 L474.50,84.68 L475.90,65.34 L477.30,51.18 L478.70,41.69 L480.10,35.58 L481.50,33.07 L482.90,32.58 L484.30,35.13 L485.70,39.08 L487.10,45.03 L488.50,52.65 L489.90,60.32 L491.30,67.70 L492.70,77.98 L494.10,86.50 L495.50,96.37 L496.90,103.40 L498.30,106.16 L499.70,107.28 L501.10,106.02 L502.50,102.90 L503.90,100.19 L505.30,97.27 L506.70,95.13 L508.10,95.13 L509.50,97.27 L510.90,100.27 L512.30,105.19 L513.70,109.31 L515.10,112.37 L516.50,114.30 L517.90,115.29 L519.30,115.79 L520.70,114.59 L522.10,111.80 L523.50,107.76 L524.90,104.78 L526.30,103.44 L527.70,102.54 L529.10,102.34 L530.50,103.41 L531.90,105.24 L533.30,107.04 L534.70,109.22 L536.10,111.38 L537.50,112.80 L538.90,113.56 L540.30,114.15 L541.70,114.47 L543.10,114.40 L544.50,113.92 L545.90,113.22 L547.30,112.51 L548.70,111.90 L550.10,111.19 L551.50,110.50 L552.90,110.02 L554.30,109.92 L555.70,110.21 L557.10,110.78 L558.50,111.52 L559.90,112.32 L561.30,113.49 L562.70,115.03 L564.10,116.63 L565.50,118.00 L566.90,119.25 L568.30,120.53 L569.70,121.56 L571.10,122.08 L572.50,122.00 L573.90,121.63 L575.30,121.12 L576.70,120.58 L578.10,120.05 L579.50,119.39 L580.90,118.72 L582.30,118.19 L583.70,117.90 L585.10,117.69 L586.50,117.53 L587.90,117.42 L589.30,117.42 L590.70,117.84 L592.10,118.62 L593.50,119.58 L594.90,120.54 L596.30,121.84 L597.70,123.44 L599.10,124.88 L600.50,125.73 L601.90,125.63 L603.30,124.81 L604.70,123.58 L606.10,122.22 L607.50,121.03 L608.90,120.28 L610.30,119.71 L611.70,119.20 L613.10,118.81 L614.50,118.61 L615.90,118.74 L617.30,119.34 L618.70,120.20 L620.10,121.14 L621.50,121.96 L622.90,122.51 L624.30,123.00 L625.70,123.47 L627.10,123.86 L628.50,124.12 L629.90,124.19 L631.30,123.68 L632.70,122.62 L634.10,121.33 L635.50,120.14 L636.90,119.21 L638.30,118.20 L639.70,117.23 L641.10,116.48 L642.50,116.11 L643.90,116.28 L645.30,116.91 L646.70,117.76 L648.10,118.59 L649.50,119.17 L650.90,119.51 L652.30,119.82 L653.70,120.09 L655.10,120.29 L656.50,120.39 L657.90,120.35 L659.30,120.13 L660.70,119.81 L662.10,119.49 L663.50,119.26 L664.90,119.20 L666.30,119.20 L667.70,119.21 L669.10,119.24 L670.50,119.28 L671.90,119.35 L673.30,119.45 L674.70,119.59 L676.10,119.77" stroke="#e81818" stroke-width="1.2" fill="none" stroke-linejoin="round"/>
<path d="M395.10,116.40a2.4,2.4 0 1,0 4.8,0a2.4,2.4 0 1,0 -4.8,0M396.50,116.40a2.4,2.4 0 1,0 4.8,0a2.4,2.4 0 1,0 -4.8,0M397.90,116.40a2.4,2.4 0 1,0 4.8,0a2.4,2.4 0 1,0 -4.8,0M399.30,116.40a2.4,2.4 0 1,0 4.8,0a2.4,2.4 0 1,0 -4.8,0M400.70,116.40a2.4,2.4 0 1,0 4.8,0a2.4,2.4 0 1,0 -4.8,0M402.10,116.40a2.4,2.4 0 1,0 4.8,0a2.4,2.4 0 1,0 -4.8,0M403.50,116.40a2.4,2.4 0 1,0 4.8,0a2.4,2.4 0 1,0 -4.8,0M404.90,116.40a2.4,2.4 0 1,0 4.8,0a2.4,2.4 0 1,0 -4.8,0M406.30,116.40a2.4,2.4 0 1,0 4.8,0a2.4,2.4 0 1,0 -4.8,0M407.70,116.40a2.4,2.4 0 1,0 4.8,0a2.4,2.4 0 1,0 -4.8,0M409.10,116.40a2.4,2.4 0 1,0 4.8,0a2.4,2.4 0 1,0 -4.8,0M410.50,116.40a2.4,2.4 0 1,0 4.8,0a2.4,2.4 0 1,0 -4.8,0M411.90,116.40a2.4,2.4 0 1,0 4.8,0a2.4,2.4 0 1,0 -4.8,0M413.30,116.40a2.4,2.4 0 1,0 4.8,0a2.4,2.4 0 1,0 -4.8,0M414.70,116.40a2.4,2.4 0 1,0 4.8,0a2.4,2.4 0 1,0 -4.8,0M416.10,116.40a2.4,2.4 0 1,0 4.8,0a2.4,2.4 0 1,0 -4.8,0M417.50,116.40a2.4,2.4 0 1,0 4.8,0a2.4,2.4 0 1,0 -4.8,0M418.90,116.41a2.4,2.4 0 1,0 4.8,0a2.4,2.4 0 1,0 -4.8,0M420.30,116.43a2.4,2.4 0 1,0 4.8,0a2.4,2.4 0 1,0 -4.8,0M421.70,116.47a2.4,2.4 0 1,0 4.8,0a2.4,2.4 0 1,0 -4.8,0M423.10,116.52a2.4,2.4 0 1,0 4.8,0a2.4,2.4 0 1,0 -4.8,0M424.50,116.60a2.4,2.4 0 1,0 4.8,0a2.4,2.4 0 1,0 -4.8,0M425.90,116.69a2.4,2.4 0 1,0 4.8,0a2.4,2.4 0 1,0 -4.8,0M427.30,116.80a2.4,2.4 0 1,0 4.8,0a2.4,2.4 0 1,0 -4.8,0M428.70,116.93a2.4,2.4 0 1,0 4.8,0a2.4,2.4 0 1,0 -4.8,0M430.10,117.15a2.4,2.4 0 1,0 4.8,0a2.4,2.4 0 1,0 -4.8,0M431.50,117.81a2.4,2.4 0 1,0 4.8,0a2.4,2.4 0 1,0 -4.8,0M432.90,118.68a2.4,2.4 0 1,0 4.8,0a2.4,2.4 0 1,0 -4.8,0M434.30,119.63a2.4,2.4 0 1,0 4.8,0a2.4,2.4 0 1,0 -4.8,0M435.70,120.82a2.4,2.4 0 1,0 4.8,0a2.4,2.4 0 1,0 -4.8,0M437.10,122.25a2.4,2.4 0 1,0 4.8,0a2.4,2.4 0 1,0 -4.8,0M438.50,124.00a2.4,2.4 0 1,0 4.8,0a2.4,2.4 0 1,0 -4.8,0M439.90,126.06a2.4,2.4 0 1,0 4.8,0a2.4,2.4 0 1,0 -4.8,0M441.30,128.44a2.4,2.4 0 1,0 4.8,0a2.4,2.4 0 1,0 -4.8,0M442.70,131.36a2.4,2.4 0 1,0 4.8,0a2.4,2.4 0 1,0 -4.8,0M444.10,134.83a2.4,2.4 0 1,0 4.8,0a2.4,2.4 0 1,0 -4.8,0M445.50,139.17a2.4,2.4 0 1,0 4.8,0a2.4,2.4 0 1,0 -4.8,0M446.90,143.80a2.4,2.4 0 1,0 4.8,0a2.4,2.4 0 1,0 -4.8,0M448.30,148.35a2.4,2.4 0 1,0 4.8,0a2.4,2.4 0 1,0 -4.8,0M449.70,153.67a2.4,2.4 0 1,0 4.8,0a2.4,2.4 0 1,0 -4.8,0M451.10,159.18a2.4,2.4 0 1,0 4.8,0a2.4,2.4 0 1,0 -4.8,0M452.50,165.17a2.4,2.4 0 1,0 4.8,0a2.4,2.4 0 1,0 -4.8,0M453.90,173.21a2.4,2.4 0 1,0 4.8,0a2.4,2.4 0 1,0 -4.8,0M455.30,182.94a2.4,2.4 0 1,0 4.8,0a2.4,2.4 0 1,0 -4.8,0M456.70,190.31a2.4,2.4 0 1,0 4.8,0a2.4,2.4 0 1,0 -4.8,0M458.10,195.64a2.4,2.4 0 1,0 4.8,0a2.4,2.4 0 1,0 -4.8,0M459.50,199.47a2.4,2.4 0 1,0 4.8,0a2.4,2.4 0 1,0 -4.8,0M460.90,201.50a2.4,2.4 0 1,0 4.8,0a2.4,2.4 0 1,0 -4.8,0M462.30,198.88a2.4,2.4 0 1,0 4.8,0a2.4,2.4 0 1,0 -4.8,0M463.70,193.48a2.4,2.4 0 1,0 4.8,0a2.4,2.4 0 1,0 -4.8,0M465.10,183.96a2.4,2.4 0 1,0 4.8,0a2.4,2.4 0 1,0 -4.8,0M466.50,167.33a2.4,2.4 0 1,0 4.8,0a2.4,2.4 0 1,0 -4.8,0M467.90,145.62a2.4,2.4 0 1,0 4.8,0a2.4,2.4 0 1,0 -4.8,0M469.30,125.26a2.4,2.4 0 1,0 4.8,0a2.4,2.4 0 1,0 -4.8,0M470.70,105.24a2.4,2.4 0 1,0 4.8,0a2.4,2.4 0 1,0 -4.8,0M472.10,84.68a2.4,2.4 0 1,0 4.8,0a2.4,2.4 0 1,0 -4.8,0M473.50,65.34a2.4,2.4 0 1,0 4.8,0a2.4,2.4 0 1,0 -4.8,0M474.90,51.18a2.4,2.4 0 1,0 4.8,0a2.4,2.4 0 1,0 -4.8,0M476.30,41.69a2.4,2.4 0 1,0 4.8,0a2.4,2.4 0 1,0 -4.8,0M477.70,35.58a2.4,2.4 0 1,0 4.8,0a2.4,2.4 0 1,0 -4.8,0M479.10,33.07a2.4,2.4 0 1,0 4.8,0a2.4,2.4 0 1,0 -4.8,0M480.50,32.58a2.4,2.4 0 1,0 4.8,0a2.4,2.4 0 1,0 -4.8,0M481.90,35.13a2.4,2.4 0 1,0 4.8,0a2.4,2.4 0 1,0 -4.8,0M483.30,39.08a2.4,2.4 0 1,0 4.8,0a2.4,2.4 0 1,0 -4.8,0M484.70,45.03a2.4,2.4 0 1,0 4.8,0a2.4,2.4 0 1,0 -4.8,0M486.10,52.65a2.4,2.4 0 1,0 4.8,0a2.4,2.4 0 1,0 -4.8,0M487.50,60.32a2.4,2.4 0 1,0 4.8,0a2.4,2.4 0 1,0 -4.8,0M488.90,67.70a2.4,2.4 0 1,0 4.8,0a2.4,2.4 0 1,0 -4.8,0M490.30,77.98a2.4,2.4 0 1,0 4.8,0a2.4,2.4 0 1,0 -4.8,0M491.70,86.50a2.4,2.4 0 1,0 4.8,0a2.4,2.4 0 1,0 -4.8,0M493.10,96.37a2.4,2.4 0 1,0 4.8,0a2.4,2.4 0 1,0 -4.8,0M494.50,103.40a2.4,2.4 0 1,0 4.8,0a2.4,2.4 0 1,0 -4.8,0M495.90,106.16a2.4,2.4 0 1,0 4.8,0a2.4,2.4 0 1,0 -4.8,0M497.30,107.28a2.4,2.4 0 1,0 4.8,0a2.4,2.4 0 1,0 -4.8,0M498.70,106.02a2.4,2.4 0 1,0 4.8,0a2.4,2.4 0 1,0 -4.8,0M500.10,102.90a2.4,2.4 0 1,0 4.8,0a2.4,2.4 0 1,0 -4.8,0M501.50,100.19a2.4,2.4 0 1,0 4.8,0a2.4,2.4 0 1,0 -4.8,0M502.90,97.27a2.4,2.4 0 1,0 4.8,0a2.4,2.4 0 1,0 -4.8,0M504.30,95.13a2.4,2.4 0 1,0 4.8,0a2.4,2.4 0 1,0 -4.8,0M505.70,95.13a2.4,2.4 0 1,0 4.8,0a2.4,2.4 0 1,0 -4.8,0M507.10,97.27a2.4,2.4 0 1,0 4.8,0a2.4,2.4 0 1,0 -4.8,0M508.50,100.27a2.4,2.4 0 1,0 4.8,0a2.4,2.4 0 1,0 -4.8,0M509.90,105.19a2.4,2.4 0 1,0 4.8,0a2.4,2.4 0 1,0 -4.8,0M511.30,109.31a2.4,2.4 0 1,0 4.8,0a2.4,2.4 0 1,0 -4.8,0M512.70,112.37a2.4,2.4 0 1,0 4.8,0a2.4,2.4 0 1,0 -4.8,0M514.10,114.30a2.4,2.4 0 1,0 4.8,0a2.4,2.4 0 1,0 -4.8,0M515.50,115.29a2.4,2.4 0 1,0 4.8,0a2.4,2.4 0 1,0 -4.8,0M516.90,115.79a2.4,2.4 0 1,0 4.8,0a2.4,2.4 0 1,0 -4.8,0M518.30,114.59a2.4,2.4 0 1,0 4.8,0a2.4,2.4 0 1,0 -4.8,0M519.70,111.80a2.4,2.4 0 1,0 4.8,0a2.4,2.4 0 1,0 -4.8,0M521.10,107.76a2.4,2.4 0 1,0 4.8,0a2.4,2.4 0 1,0 -4.8,0M522.50,104.78a2.4,2.4 0 1,0 4.8,0a2.4,2.4 0 1,0 -4.8,0M523.90,103.44a2.4,2.4 0 1,0 4.8,0a2.4,2.4 0 1,0 -4.8,0M525.30,102.54a2.4,2.4 0 1,0 4.8,0a2.4,2.4 0 1,0 -4.8,0M526.70,102.34a2.4,2.4 0 1,0 4.8,0a2.4,2.4 0 1,0 -4.8,0M528.10,103.41a2.4,2.4 0 1,0 4.8,0a2.4,2.4 0 1,0 -4.8,0M529.50,105.24a2.4,2.4 0 1,0 4.8,0a2.4,2.4 0 1,0 -4.8,0M530.90,107.04a2.4,2.4 0 1,0 4.8,0a2.4,2.4 0 1,0 -4.8,0M532.30,109.22a2.4,2.4 0 1,0 4.8,0a2.4,2.4 0 1,0 -4.8,0M533.70,111.38a2.4,2.4 0 1,0 4.8,0a2.4,2.4 0 1,0 -4.8,0M535.10,112.80a2.4,2.4 0 1,0 4.8,0a2.4,2.4 0 1,0 -4.8,0M536.50,113.56a2.4,2.4 0 1,0 4.8,0a2.4,2.4 0 1,0 -4.8,0M537.90,114.15a2.4,2.4 0 1,0 4.8,0a2.4,2.4 0 1,0 -4.8,0M539.30,114.47a2.4,2.4 0 1,0 4.8,0a2.4,2.4 0 1,0 -4.8,0M540.70,114.40a2.4,2.4 0 1,0 4.8,0a2.4,2.4 0 1,0 -4.8,0M542.10,113.92a2.4,2.4 0 1,0 4.8,0a2.4,2.4 0 1,0 -4.8,0M543.50,113.22a2.4,2.4 0 1,0 4.8,0a2.4,2.4 0 1,0 -4.8,0M544.90,112.51a2.4,2.4 0 1,0 4.8,0a2.4,2.4 0 1,0 -4.8,0M546.30,111.90a2.4,2.4 0 1,0 4.8,0a2.4,2.4 0 1,0 -4.8,0M547.70,111.19a2.4,2.4 0 1,0 4.8,0a2.4,2.4 0 1,0 -4.8,0M549.10,110.50a2.4,2.4 0 1,0 4.8,0a2.4,2.4 0 1,0 -4.8,0M550.50,110.02a2.4,2.4 0 1,0 4.8,0a2.4,2.4 0 1,0 -4.8,0M551.90,109.92a2.4,2.4 0 1,0 4.8,0a2.4,2.4 0 1,0 -4.8,0M553.30,110.21a2.4,2.4 0 1,0 4.8,0a2.4,2.4 0 1,0 -4.8,0M554.70,110.78a2.4,2.4 0 1,0 4.8,0a2.4,2.4 0 1,0 -4.8,0M556.10,111.52a2.4,2.4 0 1,0 4.8,0a2.4,2.4 0 1,0 -4.8,0M557.50,112.32a2.4,2.4 0 1,0 4.8,0a2.4,2.4 0 1,0 -4.8,0M558.90,113.49a2.4,2.4 0 1,0 4.8,0a2.4,2.4 0 1,0 -4.8,0M560.30,115.03a2.4,2.4 0 1,0 4.8,0a2.4,2.4 0 1,0 -4.8,0M561.70,116.63a2.4,2.4 0 1,0 4.8,0a2.4,2.4 0 1,0 -4.8,0M563.10,118.00a2.4,2.4 0 1,0 4.8,0a2.4,2.4 0 1,0 -4.8,0M564.50,119.25a2.4,2.4 0 1,0 4.8,0a2.4,2.4 0 1,0 -4.8,0M565.90,120.53a2.4,2.4 0 1,0 4.8,0a2.4,2.4 0 1,0 -4.8,0M567.30,121.56a2.4,2.4 0 1,0 4.8,0a2.4,2.4 0 1,0 -4.8,0M568.70,122.08a2.4,2.4 0 1,0 4.8,0a2.4,2.4 0 1,0 -4.8,0M570.10,122.00a2.4,2.4 0 1,0 4.8,0a2.4,2.4 0 1,0 -4.8,0M571.50,121.63a2.4,2.4 0 1,0 4.8,0a2.4,2.4 0 1,0 -4.8,0M572.90,121.12a2.4,2.4 0 1,0 4.8,0a2.4,2.4 0 1,0 -4.8,0M574.30,120.58a2.4,2.4 0 1,0 4.8,0a2.4,2.4 0 1,0 -4.8,0M575.70,120.05a2.4,2.4 0 1,0 4.8,0a2.4,2.4 0 1,0 -4.8,0M577.10,119.39a2.4,2.4 0 1,0 4.8,0a2.4,2.4 0 1,0 -4.8,0M578.50,118.72a2.4,2.4 0 1,0 4.8,0a2.4,2.4 0 1,0 -4.8,0M579.90,118.19a2.4,2.4 0 1,0 4.8,0a2.4,2.4 0 1,0 -4.8,0M581.30,117.90a2.4,2.4 0 1,0 4.8,0a2.4,2.4 0 1,0 -4.8,0M582.70,117.69a2.4,2.4 0 1,0 4.8,0a2.4,2.4 0 1,0 -4.8,0M584.10,117.53a2.4,2.4 0 1,0 4.8,0a2.4,2.4 0 1,0 -4.8,0M585.50,117.42a2.4,2.4 0 1,0 4.8,0a2.4,2.4 0 1,0 -4.8,0M586.90,117.42a2.4,2.4 0 1,0 4.8,0a2.4,2.4 0 1,0 -4.8,0M588.30,117.84a2.4,2.4 0 1,0 4.8,0a2.4,2.4 0 1,0 -4.8,0M589.70,118.62a2.4,2.4 0 1,0 4.8,0a2.4,2.4 0 1,0 -4.8,0M591.10,119.58a2.4,2.4 0 1,0 4.8,0a2.4,2.4 0 1,0 -4.8,0M592.50,120.54a2.4,2.4 0 1,0 4.8,0a2.4,2.4 0 1,0 -4.8,0M593.90,121.84a2.4,2.4 0 1,0 4.8,0a2.4,2.4 0 1,0 -4.8,0M595.30,123.44a2.4,2.4 0 1,0 4.8,0a2.4,2.4 0 1,0 -4.8,0M596.70,124.88a2.4,2.4 0 1,0 4.8,0a2.4,2.4 0 1,0 -4.8,0M598.10,125.73a2.4,2.4 0 1,0 4.8,0a2.4,2.4 0 1,0 -4.8,0M599.50,125.63a2.4,2.4 0 1,0 4.8,0a2.4,2.4 0 1,0 -4.8,0M600.90,124.81a2.4,2.4 0 1,0 4.8,0a2.4,2.4 0 1,0 -4.8,0M602.30,123.58a2.4,2.4 0 1,0 4.8,0a2.4,2.4 0 1,0 -4.8,0M603.70,122.22a2.4,2.4 0 1,0 4.8,0a2.4,2.4 0 1,0 -4.8,0M605.10,121.03a2.4,2.4 0 1,0 4.8,0a2.4,2.4 0 1,0 -4.8,0M606.50,120.28a2.4,2.4 0 1,0 4.8,0a2.4,2.4 0 1,0 -4.8,0M607.90,119.71a2.4,2.4 0 1,0 4.8,0a2.4,2.4 0 1,0 -4.8,0M609.30,119.20a2.4,2.4 0 1,0 4.8,0a2.4,2.4 0 1,0 -4.8,0M610.70,118.81a2.4,2.4 0 1,0 4.8,0a2.4,2.4 0 1,0 -4.8,0M612.10,118.61a2.4,2.4 0 1,0 4.8,0a2.4,2.4 0 1,0 -4.8,0M613.50,118.74a2.4,2.4 0 1,0 4.8,0a2.4,2.4 0 1,0 -4.8,0M614.90,119.34a2.4,2.4 0 1,0 4.8,0a2.4,2.4 0 1,0 -4.8,0M616.30,120.20a2.4,2.4 0 1,0 4.8,0a2.4,2.4 0 1,0 -4.8,0M617.70,121.14a2.4,2.4 0 1,0 4.8,0a2.4,2.4 0 1,0 -4.8,0M619.10,121.96a2.4,2.4 0 1,0 4.8,0a2.4,2.4 0 1,0 -4.8,0M620.50,122.51a2.4,2.4 0 1,0 4.8,0a2.4,2.4 0 1,0 -4.8,0M621.90,123.00a2.4,2.4 0 1,0 4.8,0a2.4,2.4 0 1,0 -4.8,0M623.30,123.47a2.4,2.4 0 1,0 4.8,0a2.4,2.4 0 1,0 -4.8,0M624.70,123.86a2.4,2.4 0 1,0 4.8,0a2.4,2.4 0 1,0 -4.8,0M626.10,124.12a2.4,2.4 0 1,0 4.8,0a2.4,2.4 0 1,0 -4.8,0M627.50,124.19a2.4,2.4 0 1,0 4.8,0a2.4,2.4 0 1,0 -4.8,0M628.90,123.68a2.4,2.4 0 1,0 4.8,0a2.4,2.4 0 1,0 -4.8,0M630.30,122.62a2.4,2.4 0 1,0 4.8,0a2.4,2.4 0 1,0 -4.8,0M631.70,121.33a2.4,2.4 0 1,0 4.8,0a2.4,2.4 0 1,0 -4.8,0M633.10,120.14a2.4,2.4 0 1,0 4.8,0a2.4,2.4 0 1,0 -4.8,0M634.50,119.21a2.4,2.4 0 1,0 4.8,0a2.4,2.4 0 1,0 -4.8,0M635.90,118.20a2.4,2.4 0 1,0 4.8,0a2.4,2.4 0 1,0 -4.8,0M637.30,117.23a2.4,2.4 0 1,0 4.8,0a2.4,2.4 0 1,0 -4.8,0M638.70,116.48a2.4,2.4 0 1,0 4.8,0a2.4,2.4 0 1,0 -4.8,0M640.10,116.11a2.4,2.4 0 1,0 4.8,0a2.4,2.4 0 1,0 -4.8,0M641.50,116.28a2.4,2.4 0 1,0 4.8,0a2.4,2.4 0 1,0 -4.8,0M642.90,116.91a2.4,2.4 0 1,0 4.8,0a2.4,2.4 0 1,0 -4.8,0M644.30,117.76a2.4,2.4 0 1,0 4.8,0a2.4,2.4 0 1,0 -4.8,0M645.70,118.59a2.4,2.4 0 1,0 4.8,0a2.4,2.4 0 1,0 -4.8,0M647.10,119.17a2.4,2.4 0 1,0 4.8,0a2.4,2.4 0 1,0 -4.8,0M648.50,119.51a2.4,2.4 0 1,0 4.8,0a2.4,2.4 0 1,0 -4.8,0M649.90,119.82a2.4,2.4 0 1,0 4.8,0a2.4,2.4 0 1,0 -4.8,0M651.30,120.09a2.4,2.4 0 1,0 4.8,0a2.4,2.4 0 1,0 -4.8,0M652.70,120.29a2.4,2.4 0 1,0 4.8,0a2.4,2.4 0 1,0 -4.8,0M654.10,120.39a2.4,2.4 0 1,0 4.8,0a2.4,2.4 0 1,0 -4.8,0M655.50,120.35a2.4,2.4 0 1,0 4.8,0a2.4,2.4 0 1,0 -4.8,0M656.90,120.13a2.4,2.4 0 1,0 4.8,0a2.4,2.4 0 1,0 -4.8,0M658.30,119.81a2.4,2.4 0 1,0 4.8,0a2.4,2.4 0 1,0 -4.8,0M659.70,119.49a2.4,2.4 0 1,0 4.8,0a2.4,2.4 0 1,0 -4.8,0M661.10,119.26a2.4,2.4 0 1,0 4.8,0a2.4,2.4 0 1,0 -4.8,0M662.50,119.20a2.4,2.4 0 1,0 4.8,0a2.4,2.4 0 1,0 -4.8,0M663.90,119.20a2.4,2.4 0 1,0 4.8,0a2.4,2.4 0 1,0 -4.8,0M665.30,119.21a2.4,2.4 0 1,0 4.8,0a2.4,2.4 0 1,0 -4.8,0M666.70,119.24a2.4,2.4 0 1,0 4.8,0a2.4,2.4 0 1,0 -4.8,0M668.10,119.28a2.4,2.4 0 1,0 4.8,0a2.4,2.4 0 1,0 -4.8,0M669.50,119.35a2.4,2.4 0 1,0 4.8,0a2.4,2.4 0 1,0 -4.8,0M670.90,119.45a2.4,2.4 0 1,0 4.8,0a2.4,2.4 0 1,0 -4.8,0M672.30,119.59a2.4,2.4 0 1,0 4.8,0a2.4,2.4 0 1,0 -4.8,0M673.70,119.77a2.4,2.4 0 1,0 4.8,0a2.4,2.4 0 1,0 -4.8,0" fill="#ff0000"/>
<text x="341.49" y="13.6" font-size="16.5" textLength="21.92" lengthAdjust="spacingAndGlyphs">(b)</text>
<text x="545.12" y="29.9" font-size="24.8" textLength="121.15" lengthAdjust="spacingAndGlyphs">MGG(Exp)</text>
<text transform="translate(359,165.83) rotate(-90)" font-size="17.5" textLength="93.9" lengthAdjust="spacingAndGlyphs">Electric field</text>
<text x="471.81" y="254" font-size="17.5" textLength="119.19" lengthAdjust="spacingAndGlyphs">Time Delay(ps)</text>
<path d="M598.2,52.5H637.8" stroke="#000" stroke-width="1.5"/>
<rect x="615.75" y="50.25" width="4.5" height="4.5" fill="#000"/>
<text x="642.42" y="58.3" font-size="17.5">0°</text>
<path d="M598.2,74.1H637.8" stroke="#0000ff" stroke-width="1.5"/>
<path d="M618.00,71.04L621.00,76.14L615.00,76.14z" fill="#0000ff"/>
<text x="642.7" y="79.9" font-size="17.5">45°</text>
<path d="M598.2,95.7H637.8" stroke="#d82020" stroke-width="1.5"/>
<circle cx="618" cy="95.7" r="2.5" fill="#ff0000"/>
<text x="642.28" y="101.5" font-size="17.5">90°</text>
<path d="M51.5,272.5V483.4H335.4M51.5,272.5h4.5M51.5,325.23h4.5M51.5,377.95h4.5M51.5,430.67h4.5M51.5,483.4h4.5M51.5,298.86h2.5M51.5,351.59h2.5M51.5,404.31h2.5M51.5,457.04h2.5M51.5,483.4v-4.5M95.18,483.4v-4.5M138.85,483.4v-4.5M182.53,483.4v-4.5M226.21,483.4v-4.5M269.88,483.4v-4.5M313.56,483.4v-4.5M73.34,483.4v-2.5M117.02,483.4v-2.5M160.69,483.4v-2.5M204.37,483.4v-2.5M248.05,483.4v-2.5M291.72,483.4v-2.5M335.4,483.4v-2.5" stroke="#404040" stroke-width="1.15" fill="none"/>
<text x="36.65" y="277.7" font-size="17.5">0</text>
<text x="30.87" y="330.43" font-size="17.5">-5</text>
<text x="21.09" y="383.15" font-size="17.5">-10</text>
<text x="21.14" y="435.87" font-size="17.5">-15</text>
<text x="21.09" y="488.6" font-size="17.5">-20</text>
<text x="39.43" y="502" font-size="17.5">0.2</text>
<text x="82.93" y="502" font-size="17.5">0.4</text>
<text x="126.73" y="502" font-size="17.5">0.6</text>
<text x="170.41" y="502" font-size="17.5">0.8</text>
<text x="213.72" y="502" font-size="17.5">1.0</text>
<text x="257.49" y="502" font-size="17.5">1.2</text>
<text x="300.99" y="502" font-size="17.5">1.4</text>
<path d="M51.50,274.90 L54.40,274.90 L59.88,274.90 L65.36,274.90 L70.84,274.90 L76.32,274.75 L81.80,274.50 L87.28,274.28 L92.76,274.20 L98.24,274.39 L103.72,274.79 L109.20,275.87 L114.68,277.88 L120.16,280.55 L125.64,283.58 L131.12,286.78 L136.60,290.25 L142.08,293.99 L147.56,298.01 L153.04,302.46 L158.52,306.76 L164.00,310.76 L169.48,314.22 L174.96,317.07 L180.44,319.56 L185.92,321.98 L191.40,323.50 L196.88,324.36 L202.36,324.79 L207.84,324.45 L213.32,323.71 L218.80,322.80 L224.28,321.82 L229.76,320.76 L235.24,319.79 L240.72,319.60 L246.20,319.60 L251.68,319.60 L257.16,319.76 L262.64,320.08 L268.12,320.49 L273.60,321.11 L279.08,321.98 L284.56,323.43 L290.04,325.06 L295.52,326.82 L301.00,328.24 L306.48,329.44 L311.96,330.09 L317.44,329.65 L322.92,328.47 L328.40,326.56 L333.88,323.49" stroke="#000" stroke-width="1.2" fill="none" stroke-linejoin="round"/>
<path d="M52.35,272.85h4.1v4.1h-4.1zM57.83,272.85h4.1v4.1h-4.1zM63.31,272.85h4.1v4.1h-4.1zM68.79,272.85h4.1v4.1h-4.1zM74.27,272.70h4.1v4.1h-4.1zM79.75,272.45h4.1v4.1h-4.1zM85.23,272.23h4.1v4.1h-4.1zM90.71,272.15h4.1v4.1h-4.1zM96.19,272.34h4.1v4.1h-4.1zM101.67,272.74h4.1v4.1h-4.1zM107.15,273.82h4.1v4.1h-4.1zM112.63,275.83h4.1v4.1h-4.1zM118.11,278.50h4.1v4.1h-4.1zM123.59,281.53h4.1v4.1h-4.1zM129.07,284.73h4.1v4.1h-4.1zM134.55,288.20h4.1v4.1h-4.1zM140.03,291.94h4.1v4.1h-4.1zM145.51,295.96h4.1v4.1h-4.1zM150.99,300.41h4.1v4.1h-4.1zM156.47,304.71h4.1v4.1h-4.1zM161.95,308.71h4.1v4.1h-4.1zM167.43,312.17h4.1v4.1h-4.1zM172.91,315.02h4.1v4.1h-4.1zM178.39,317.51h4.1v4.1h-4.1zM183.87,319.93h4.1v4.1h-4.1zM189.35,321.45h4.1v4.1h-4.1zM194.83,322.31h4.1v4.1h-4.1zM200.31,322.74h4.1v4.1h-4.1zM205.79,322.40h4.1v4.1h-4.1zM211.27,321.66h4.1v4.1h-4.1zM216.75,320.75h4.1v4.1h-4.1zM222.23,319.77h4.1v4.1h-4.1zM227.71,318.71h4.1v4.1h-4.1zM233.19,317.74h4.1v4.1h-4.1zM238.67,317.55h4.1v4.1h-4.1zM244.15,317.55h4.1v4.1h-4.1zM249.63,317.55h4.1v4.1h-4.1zM255.11,317.71h4.1v4.1h-4.1zM260.59,318.03h4.1v4.1h-4.1zM266.07,318.44h4.1v4.1h-4.1zM271.55,319.06h4.1v4.1h-4.1zM277.03,319.93h4.1v4.1h-4.1zM282.51,321.38h4.1v4.1h-4.1zM287.99,323.01h4.1v4.1h-4.1zM293.47,324.77h4.1v4.1h-4.1zM298.95,326.19h4.1v4.1h-4.1zM304.43,327.39h4.1v4.1h-4.1zM309.91,328.04h4.1v4.1h-4.1zM315.39,327.60h4.1v4.1h-4.1zM320.87,326.42h4.1v4.1h-4.1zM326.35,324.51h4.1v4.1h-4.1zM331.83,321.44h4.1v4.1h-4.1z" fill="#000"/>
<path d="M51.50,278.80 L54.40,278.52 L59.88,278.00 L65.36,277.50 L70.84,277.02 L76.32,276.51 L81.80,276.02 L87.28,275.58 L92.76,275.25 L98.24,274.97 L103.72,274.72 L109.20,274.55 L114.68,274.50 L120.16,274.50 L125.64,274.50 L131.12,274.50 L136.60,274.50 L142.08,274.55 L147.56,274.65 L153.04,274.79 L158.52,274.93 L164.00,275.09 L169.48,275.30 L174.96,275.55 L180.44,275.87 L185.92,276.41 L191.40,277.02 L196.88,277.60 L202.36,278.21 L207.84,278.68 L213.32,278.80 L218.80,278.78 L224.28,278.73 L229.76,278.66 L235.24,278.56 L240.72,278.20 L246.20,277.62 L251.68,276.99 L257.16,276.47 L262.64,275.92 L268.12,275.38 L273.60,275.00 L279.08,274.91 L284.56,275.02 L290.04,275.26 L295.52,276.11 L301.00,277.47 L306.48,279.03 L311.96,280.47 L317.44,281.40 L322.92,282.19 L328.40,283.09 L333.88,284.03" stroke="#e81818" stroke-width="1.2" fill="none" stroke-linejoin="round"/>
<path d="M52.00,278.52a2.4,2.4 0 1,0 4.8,0a2.4,2.4 0 1,0 -4.8,0M57.48,278.00a2.4,2.4 0 1,0 4.8,0a2.4,2.4 0 1,0 -4.8,0M62.96,277.50a2.4,2.4 0 1,0 4.8,0a2.4,2.4 0 1,0 -4.8,0M68.44,277.02a2.4,2.4 0 1,0 4.8,0a2.4,2.4 0 1,0 -4.8,0M73.92,276.51a2.4,2.4 0 1,0 4.8,0a2.4,2.4 0 1,0 -4.8,0M79.40,276.02a2.4,2.4 0 1,0 4.8,0a2.4,2.4 0 1,0 -4.8,0M84.88,275.58a2.4,2.4 0 1,0 4.8,0a2.4,2.4 0 1,0 -4.8,0M90.36,275.25a2.4,2.4 0 1,0 4.8,0a2.4,2.4 0 1,0 -4.8,0M95.84,274.97a2.4,2.4 0 1,0 4.8,0a2.4,2.4 0 1,0 -4.8,0M101.32,274.72a2.4,2.4 0 1,0 4.8,0a2.4,2.4 0 1,0 -4.8,0M106.80,274.55a2.4,2.4 0 1,0 4.8,0a2.4,2.4 0 1,0 -4.8,0M112.28,274.50a2.4,2.4 0 1,0 4.8,0a2.4,2.4 0 1,0 -4.8,0M117.76,274.50a2.4,2.4 0 1,0 4.8,0a2.4,2.4 0 1,0 -4.8,0M123.24,274.50a2.4,2.4 0 1,0 4.8,0a2.4,2.4 0 1,0 -4.8,0M128.72,274.50a2.4,2.4 0 1,0 4.8,0a2.4,2.4 0 1,0 -4.8,0M134.20,274.50a2.4,2.4 0 1,0 4.8,0a2.4,2.4 0 1,0 -4.8,0M139.68,274.55a2.4,2.4 0 1,0 4.8,0a2.4,2.4 0 1,0 -4.8,0M145.16,274.65a2.4,2.4 0 1,0 4.8,0a2.4,2.4 0 1,0 -4.8,0M150.64,274.79a2.4,2.4 0 1,0 4.8,0a2.4,2.4 0 1,0 -4.8,0M156.12,274.93a2.4,2.4 0 1,0 4.8,0a2.4,2.4 0 1,0 -4.8,0M161.60,275.09a2.4,2.4 0 1,0 4.8,0a2.4,2.4 0 1,0 -4.8,0M167.08,275.30a2.4,2.4 0 1,0 4.8,0a2.4,2.4 0 1,0 -4.8,0M172.56,275.55a2.4,2.4 0 1,0 4.8,0a2.4,2.4 0 1,0 -4.8,0M178.04,275.87a2.4,2.4 0 1,0 4.8,0a2.4,2.4 0 1,0 -4.8,0M183.52,276.41a2.4,2.4 0 1,0 4.8,0a2.4,2.4 0 1,0 -4.8,0M189.00,277.02a2.4,2.4 0 1,0 4.8,0a2.4,2.4 0 1,0 -4.8,0M194.48,277.60a2.4,2.4 0 1,0 4.8,0a2.4,2.4 0 1,0 -4.8,0M199.96,278.21a2.4,2.4 0 1,0 4.8,0a2.4,2.4 0 1,0 -4.8,0M205.44,278.68a2.4,2.4 0 1,0 4.8,0a2.4,2.4 0 1,0 -4.8,0M210.92,278.80a2.4,2.4 0 1,0 4.8,0a2.4,2.4 0 1,0 -4.8,0M216.40,278.78a2.4,2.4 0 1,0 4.8,0a2.4,2.4 0 1,0 -4.8,0M221.88,278.73a2.4,2.4 0 1,0 4.8,0a2.4,2.4 0 1,0 -4.8,0M227.36,278.66a2.4,2.4 0 1,0 4.8,0a2.4,2.4 0 1,0 -4.8,0M232.84,278.56a2.4,2.4 0 1,0 4.8,0a2.4,2.4 0 1,0 -4.8,0M238.32,278.20a2.4,2.4 0 1,0 4.8,0a2.4,2.4 0 1,0 -4.8,0M243.80,277.62a2.4,2.4 0 1,0 4.8,0a2.4,2.4 0 1,0 -4.8,0M249.28,276.99a2.4,2.4 0 1,0 4.8,0a2.4,2.4 0 1,0 -4.8,0M254.76,276.47a2.4,2.4 0 1,0 4.8,0a2.4,2.4 0 1,0 -4.8,0M260.24,275.92a2.4,2.4 0 1,0 4.8,0a2.4,2.4 0 1,0 -4.8,0M265.72,275.38a2.4,2.4 0 1,0 4.8,0a2.4,2.4 0 1,0 -4.8,0M271.20,275.00a2.4,2.4 0 1,0 4.8,0a2.4,2.4 0 1,0 -4.8,0M276.68,274.91a2.4,2.4 0 1,0 4.8,0a2.4,2.4 0 1,0 -4.8,0M282.16,275.02a2.4,2.4 0 1,0 4.8,0a2.4,2.4 0 1,0 -4.8,0M287.64,275.26a2.4,2.4 0 1,0 4.8,0a2.4,2.4 0 1,0 -4.8,0M293.12,276.11a2.4,2.4 0 1,0 4.8,0a2.4,2.4 0 1,0 -4.8,0M298.60,277.47a2.4,2.4 0 1,0 4.8,0a2.4,2.4 0 1,0 -4.8,0M304.08,279.03a2.4,2.4 0 1,0 4.8,0a2.4,2.4 0 1,0 -4.8,0M309.56,280.47a2.4,2.4 0 1,0 4.8,0a2.4,2.4 0 1,0 -4.8,0M315.04,281.40a2.4,2.4 0 1,0 4.8,0a2.4,2.4 0 1,0 -4.8,0M320.52,282.19a2.4,2.4 0 1,0 4.8,0a2.4,2.4 0 1,0 -4.8,0M326.00,283.09a2.4,2.4 0 1,0 4.8,0a2.4,2.4 0 1,0 -4.8,0M331.48,284.03a2.4,2.4 0 1,0 4.8,0a2.4,2.4 0 1,0 -4.8,0" fill="#ff0000"/>
<text x="0.61" y="275.4" font-size="16.5" textLength="21.43" lengthAdjust="spacingAndGlyphs">(c)</text>
<text transform="translate(16.7,440.1) rotate(-90)" font-size="17.5" textLength="112.49" lengthAdjust="spacingAndGlyphs">Transmittance</text>
<text transform="translate(16.7,325.65) rotate(-90)" font-size="17.5" textLength="32.11" lengthAdjust="spacingAndGlyphs">(dB)</text>
<text x="122.13" y="520.5" font-size="17.5" textLength="129.58" lengthAdjust="spacingAndGlyphs">Frequency(THz)</text>
<path d="M246,399H286.8" stroke="#000" stroke-width="1.5"/>
<rect x="264.15" y="396.75" width="4.5" height="4.5" fill="#000"/>
<text x="290.92" y="404.8" font-size="17.5">0°</text>
<path d="M246,421.3H286.8" stroke="#d82020" stroke-width="1.5"/>
<circle cx="266.4" cy="421.3" r="2.5" fill="#ff0000"/>
<text x="290.78" y="427.1" font-size="17.5">90°</text>
<path d="M393.6,273.1V486.3H681.5M393.6,273.1h4.5M393.6,326.4h4.5M393.6,379.7h4.5M393.6,433h4.5M393.6,486.3h4.5M393.6,299.75h2.5M393.6,353.05h2.5M393.6,406.35h2.5M393.6,459.65h2.5M393.6,486.3v-4.5M437.89,486.3v-4.5M482.18,486.3v-4.5M526.48,486.3v-4.5M570.77,486.3v-4.5M615.06,486.3v-4.5M659.35,486.3v-4.5M415.75,486.3v-2.5M460.04,486.3v-2.5M504.33,486.3v-2.5M548.62,486.3v-2.5M592.92,486.3v-2.5M637.21,486.3v-2.5M681.5,486.3v-2.5" stroke="#404040" stroke-width="1.15" fill="none"/>
<text x="378.95" y="278.3" font-size="17.5">0</text>
<text x="373.17" y="331.6" font-size="17.5">-5</text>
<text x="363.39" y="384.9" font-size="17.5">-10</text>
<text x="363.44" y="438.2" font-size="17.5">-15</text>
<text x="363.39" y="491.5" font-size="17.5">-20</text>
<text x="381.53" y="504.9" font-size="17.5">0.2</text>
<text x="425.64" y="504.9" font-size="17.5">0.4</text>
<text x="470.06" y="504.9" font-size="17.5">0.6</text>
<text x="514.35" y="504.9" font-size="17.5">0.8</text>
<text x="558.28" y="504.9" font-size="17.5">1.0</text>
<text x="602.67" y="504.9" font-size="17.5">1.2</text>
<text x="646.78" y="504.9" font-size="17.5">1.4</text>
<path d="M393.60,283.18 L394.22,283.06 L399.71,282.07 L405.20,281.20 L410.69,280.19 L416.18,279.07 L421.67,277.89 L427.16,276.69 L432.65,276.14 L438.14,275.83 L443.63,275.87 L449.12,276.21 L454.61,276.95 L460.10,278.57 L465.59,280.50 L471.08,283.00 L476.57,286.14 L482.06,290.10 L487.55,294.27 L493.04,298.75 L498.53,303.58 L504.02,308.67 L509.51,313.30 L515.00,317.59 L520.49,321.78 L525.98,325.72 L531.47,328.49 L536.96,330.31 L542.45,331.50 L547.94,331.70 L553.43,330.63 L558.92,328.76 L564.41,325.00 L569.90,320.84 L575.39,316.46 L580.88,311.77 L586.37,306.65 L591.86,302.10 L597.35,298.08 L602.84,295.04 L608.33,292.71 L613.82,291.15 L619.31,290.03 L624.80,289.39 L630.29,288.98 L635.78,288.91 L641.27,289.02 L646.76,289.18 L652.25,289.45 L657.74,289.60 L663.23,289.60 L668.72,289.60 L674.21,289.60 L679.70,289.60" stroke="#000" stroke-width="1.2" fill="none" stroke-linejoin="round"/>
<path d="M392.17,281.01h4.1v4.1h-4.1zM397.66,280.02h4.1v4.1h-4.1zM403.15,279.15h4.1v4.1h-4.1zM408.64,278.14h4.1v4.1h-4.1zM414.13,277.02h4.1v4.1h-4.1zM419.62,275.84h4.1v4.1h-4.1zM425.11,274.64h4.1v4.1h-4.1zM430.60,274.09h4.1v4.1h-4.1zM436.09,273.78h4.1v4.1h-4.1zM441.58,273.82h4.1v4.1h-4.1zM447.07,274.16h4.1v4.1h-4.1zM452.56,274.90h4.1v4.1h-4.1zM458.05,276.52h4.1v4.1h-4.1zM463.54,278.45h4.1v4.1h-4.1zM469.03,280.95h4.1v4.1h-4.1zM474.52,284.09h4.1v4.1h-4.1zM480.01,288.05h4.1v4.1h-4.1zM485.50,292.22h4.1v4.1h-4.1zM490.99,296.70h4.1v4.1h-4.1zM496.48,301.53h4.1v4.1h-4.1zM501.97,306.62h4.1v4.1h-4.1zM507.46,311.25h4.1v4.1h-4.1zM512.95,315.54h4.1v4.1h-4.1zM518.44,319.73h4.1v4.1h-4.1zM523.93,323.67h4.1v4.1h-4.1zM529.42,326.44h4.1v4.1h-4.1zM534.91,328.26h4.1v4.1h-4.1zM540.40,329.45h4.1v4.1h-4.1zM545.89,329.65h4.1v4.1h-4.1zM551.38,328.58h4.1v4.1h-4.1zM556.87,326.71h4.1v4.1h-4.1zM562.36,322.95h4.1v4.1h-4.1zM567.85,318.79h4.1v4.1h-4.1zM573.34,314.41h4.1v4.1h-4.1zM578.83,309.72h4.1v4.1h-4.1zM584.32,304.60h4.1v4.1h-4.1zM589.81,300.05h4.1v4.1h-4.1zM595.30,296.03h4.1v4.1h-4.1zM600.79,292.99h4.1v4.1h-4.1zM606.28,290.66h4.1v4.1h-4.1zM611.77,289.10h4.1v4.1h-4.1zM617.26,287.98h4.1v4.1h-4.1zM622.75,287.34h4.1v4.1h-4.1zM628.24,286.93h4.1v4.1h-4.1zM633.73,286.86h4.1v4.1h-4.1zM639.22,286.97h4.1v4.1h-4.1zM644.71,287.13h4.1v4.1h-4.1zM650.20,287.40h4.1v4.1h-4.1zM655.69,287.55h4.1v4.1h-4.1zM661.18,287.55h4.1v4.1h-4.1zM666.67,287.55h4.1v4.1h-4.1zM672.16,287.55h4.1v4.1h-4.1zM677.65,287.55h4.1v4.1h-4.1z" fill="#000"/>
<path d="M393.60,290.47 L394.22,290.30 L399.71,288.58 L405.20,286.62 L410.69,284.67 L416.18,282.73 L421.67,280.72 L427.16,278.71 L432.65,277.06 L438.14,275.69 L443.63,274.84 L449.12,274.26 L454.61,274.26 L460.10,274.55 L465.59,275.05 L471.08,275.99 L476.57,277.17 L482.06,278.69 L487.55,280.29 L493.04,281.99 L498.53,283.60 L504.02,285.12 L509.51,286.40 L515.00,287.50 L520.49,288.28 L525.98,288.85 L531.47,288.78 L536.96,288.25 L542.45,287.15 L547.94,285.25 L553.43,283.60 L558.92,281.95 L564.41,280.26 L569.90,278.63 L575.39,277.03 L580.88,275.82 L586.37,275.14 L591.86,274.91 L597.35,275.35 L602.84,276.21 L608.33,278.00 L613.82,280.28 L619.31,283.27 L624.80,286.51 L630.29,290.02 L635.78,293.91 L641.27,298.11 L646.76,302.55 L652.25,307.00 L657.74,311.37 L663.23,315.63 L668.72,319.66 L674.21,324.19 L679.70,329.24" stroke="#e81818" stroke-width="1.2" fill="none" stroke-linejoin="round"/>
<path d="M391.82,290.30a2.4,2.4 0 1,0 4.8,0a2.4,2.4 0 1,0 -4.8,0M397.31,288.58a2.4,2.4 0 1,0 4.8,0a2.4,2.4 0 1,0 -4.8,0M402.80,286.62a2.4,2.4 0 1,0 4.8,0a2.4,2.4 0 1,0 -4.8,0M408.29,284.67a2.4,2.4 0 1,0 4.8,0a2.4,2.4 0 1,0 -4.8,0M413.78,282.73a2.4,2.4 0 1,0 4.8,0a2.4,2.4 0 1,0 -4.8,0M419.27,280.72a2.4,2.4 0 1,0 4.8,0a2.4,2.4 0 1,0 -4.8,0M424.76,278.71a2.4,2.4 0 1,0 4.8,0a2.4,2.4 0 1,0 -4.8,0M430.25,277.06a2.4,2.4 0 1,0 4.8,0a2.4,2.4 0 1,0 -4.8,0M435.74,275.69a2.4,2.4 0 1,0 4.8,0a2.4,2.4 0 1,0 -4.8,0M441.23,274.84a2.4,2.4 0 1,0 4.8,0a2.4,2.4 0 1,0 -4.8,0M446.72,274.26a2.4,2.4 0 1,0 4.8,0a2.4,2.4 0 1,0 -4.8,0M452.21,274.26a2.4,2.4 0 1,0 4.8,0a2.4,2.4 0 1,0 -4.8,0M457.70,274.55a2.4,2.4 0 1,0 4.8,0a2.4,2.4 0 1,0 -4.8,0M463.19,275.05a2.4,2.4 0 1,0 4.8,0a2.4,2.4 0 1,0 -4.8,0M468.68,275.99a2.4,2.4 0 1,0 4.8,0a2.4,2.4 0 1,0 -4.8,0M474.17,277.17a2.4,2.4 0 1,0 4.8,0a2.4,2.4 0 1,0 -4.8,0M479.66,278.69a2.4,2.4 0 1,0 4.8,0a2.4,2.4 0 1,0 -4.8,0M485.15,280.29a2.4,2.4 0 1,0 4.8,0a2.4,2.4 0 1,0 -4.8,0M490.64,281.99a2.4,2.4 0 1,0 4.8,0a2.4,2.4 0 1,0 -4.8,0M496.13,283.60a2.4,2.4 0 1,0 4.8,0a2.4,2.4 0 1,0 -4.8,0M501.62,285.12a2.4,2.4 0 1,0 4.8,0a2.4,2.4 0 1,0 -4.8,0M507.11,286.40a2.4,2.4 0 1,0 4.8,0a2.4,2.4 0 1,0 -4.8,0M512.60,287.50a2.4,2.4 0 1,0 4.8,0a2.4,2.4 0 1,0 -4.8,0M518.09,288.28a2.4,2.4 0 1,0 4.8,0a2.4,2.4 0 1,0 -4.8,0M523.58,288.85a2.4,2.4 0 1,0 4.8,0a2.4,2.4 0 1,0 -4.8,0M529.07,288.78a2.4,2.4 0 1,0 4.8,0a2.4,2.4 0 1,0 -4.8,0M534.56,288.25a2.4,2.4 0 1,0 4.8,0a2.4,2.4 0 1,0 -4.8,0M540.05,287.15a2.4,2.4 0 1,0 4.8,0a2.4,2.4 0 1,0 -4.8,0M545.54,285.25a2.4,2.4 0 1,0 4.8,0a2.4,2.4 0 1,0 -4.8,0M551.03,283.60a2.4,2.4 0 1,0 4.8,0a2.4,2.4 0 1,0 -4.8,0M556.52,281.95a2.4,2.4 0 1,0 4.8,0a2.4,2.4 0 1,0 -4.8,0M562.01,280.26a2.4,2.4 0 1,0 4.8,0a2.4,2.4 0 1,0 -4.8,0M567.50,278.63a2.4,2.4 0 1,0 4.8,0a2.4,2.4 0 1,0 -4.8,0M572.99,277.03a2.4,2.4 0 1,0 4.8,0a2.4,2.4 0 1,0 -4.8,0M578.48,275.82a2.4,2.4 0 1,0 4.8,0a2.4,2.4 0 1,0 -4.8,0M583.97,275.14a2.4,2.4 0 1,0 4.8,0a2.4,2.4 0 1,0 -4.8,0M589.46,274.91a2.4,2.4 0 1,0 4.8,0a2.4,2.4 0 1,0 -4.8,0M594.95,275.35a2.4,2.4 0 1,0 4.8,0a2.4,2.4 0 1,0 -4.8,0M600.44,276.21a2.4,2.4 0 1,0 4.8,0a2.4,2.4 0 1,0 -4.8,0M605.93,278.00a2.4,2.4 0 1,0 4.8,0a2.4,2.4 0 1,0 -4.8,0M611.42,280.28a2.4,2.4 0 1,0 4.8,0a2.4,2.4 0 1,0 -4.8,0M616.91,283.27a2.4,2.4 0 1,0 4.8,0a2.4,2.4 0 1,0 -4.8,0M622.40,286.51a2.4,2.4 0 1,0 4.8,0a2.4,2.4 0 1,0 -4.8,0M627.89,290.02a2.4,2.4 0 1,0 4.8,0a2.4,2.4 0 1,0 -4.8,0M633.38,293.91a2.4,2.4 0 1,0 4.8,0a2.4,2.4 0 1,0 -4.8,0M638.87,298.11a2.4,2.4 0 1,0 4.8,0a2.4,2.4 0 1,0 -4.8,0M644.36,302.55a2.4,2.4 0 1,0 4.8,0a2.4,2.4 0 1,0 -4.8,0M649.85,307.00a2.4,2.4 0 1,0 4.8,0a2.4,2.4 0 1,0 -4.8,0M655.34,311.37a2.4,2.4 0 1,0 4.8,0a2.4,2.4 0 1,0 -4.8,0M660.83,315.63a2.4,2.4 0 1,0 4.8,0a2.4,2.4 0 1,0 -4.8,0M666.32,319.66a2.4,2.4 0 1,0 4.8,0a2.4,2.4 0 1,0 -4.8,0M671.81,324.19a2.4,2.4 0 1,0 4.8,0a2.4,2.4 0 1,0 -4.8,0M677.30,329.24a2.4,2.4 0 1,0 4.8,0a2.4,2.4 0 1,0 -4.8,0" fill="#ff0000"/>
<text x="337.82" y="274.6" font-size="16.5" textLength="23.26" lengthAdjust="spacingAndGlyphs">(d)</text>
<text transform="translate(353.8,442.81) rotate(-90)" font-size="17.5" textLength="114.31" lengthAdjust="spacingAndGlyphs">Transmittance</text>
<text transform="translate(353.8,326.15) rotate(-90)" font-size="17.5" textLength="32" lengthAdjust="spacingAndGlyphs">(dB)</text>
<text x="465.31" y="520.5" font-size="17.5" textLength="131.32" lengthAdjust="spacingAndGlyphs">Frequency(THz)</text>
<path d="M596.7,417.7H638.3" stroke="#000" stroke-width="1.5"/>
<rect x="615.25" y="415.45" width="4.5" height="4.5" fill="#000"/>
<text x="642.42" y="423.5" font-size="17.5">0°</text>
<path d="M596.7,439.9H638.3" stroke="#d82020" stroke-width="1.5"/>
<circle cx="617.5" cy="439.9" r="2.5" fill="#ff0000"/>
<text x="642.28" y="445.7" font-size="17.5">90°</text>
<path d="M62.7,540.1V743.4H336.8M62.7,540.1h4.5M62.7,580.76h4.5M62.7,621.42h4.5M62.7,662.08h4.5M62.7,702.74h4.5M62.7,743.4h4.5M62.7,560.43h2.5M62.7,601.09h2.5M62.7,641.75h2.5M62.7,682.41h2.5M62.7,723.07h2.5M62.7,743.4v-4.5M100.51,743.4v-4.5M138.31,743.4v-4.5M176.12,743.4v-4.5M213.93,743.4v-4.5M251.73,743.4v-4.5M289.54,743.4v-4.5M327.35,743.4v-4.5M81.6,743.4v-2.5M119.41,743.4v-2.5M157.22,743.4v-2.5M195.02,743.4v-2.5M232.83,743.4v-2.5M270.64,743.4v-2.5M308.44,743.4v-2.5" stroke="#404040" stroke-width="1.15" fill="none"/>
<text x="34.44" y="545.3" font-size="17.5">3.3</text>
<text x="34.55" y="585.96" font-size="17.5">3.2</text>
<text x="34.53" y="626.62" font-size="17.5">3.1</text>
<text x="34.36" y="667.28" font-size="17.5">3.0</text>
<text x="34.5" y="707.94" font-size="17.5">2.9</text>
<text x="34.43" y="748.6" font-size="17.5">2.8</text>
<text x="50.63" y="762" font-size="17.5">0.2</text>
<text x="88.26" y="762" font-size="17.5">0.4</text>
<text x="126.19" y="762" font-size="17.5">0.6</text>
<text x="164" y="762" font-size="17.5">0.8</text>
<text x="201.44" y="762" font-size="17.5">1.0</text>
<text x="239.34" y="762" font-size="17.5">1.2</text>
<text x="276.97" y="762" font-size="17.5">1.4</text>
<text x="314.9" y="762" font-size="17.5">1.6</text>
<path d="M62.70,621.53 L66.00,619.10 L70.73,615.36 L75.46,611.63 L80.19,608.08 L84.92,604.36 L89.65,600.91 L94.38,597.58 L99.11,593.86 L103.84,590.02 L108.57,586.46 L113.30,582.95 L118.03,579.28 L122.76,575.99 L127.49,573.17 L132.22,570.75 L136.95,568.66 L141.68,567.35 L146.41,566.50 L151.14,565.83 L155.87,565.41 L160.60,565.40 L165.33,565.40 L170.06,565.48 L174.79,565.85 L179.52,566.15 L184.25,566.38 L188.98,566.50 L193.71,566.41 L198.44,566.20 L203.17,565.93 L207.90,565.53 L212.63,565.01 L217.36,564.23 L222.09,563.19 L226.82,561.94 L231.55,560.43 L236.28,558.96 L241.01,557.46 L245.74,556.20 L250.47,555.08 L255.20,554.38 L259.93,554.11 L264.66,553.92 L269.39,553.72 L274.12,553.51 L278.85,553.31 L283.58,553.14 L288.31,553.00 L293.04,552.89 L297.77,552.79 L302.50,552.68 L307.23,552.59 L311.96,552.50 L316.69,552.37 L321.42,552.09 L326.15,551.48 L330.88,550.65 L335.61,549.37" stroke="#000" stroke-width="1.2" fill="none" stroke-linejoin="round"/>
<path d="M63.95,617.05h4.1v4.1h-4.1zM68.68,613.31h4.1v4.1h-4.1zM73.41,609.58h4.1v4.1h-4.1zM78.14,606.03h4.1v4.1h-4.1zM82.87,602.31h4.1v4.1h-4.1zM87.60,598.86h4.1v4.1h-4.1zM92.33,595.53h4.1v4.1h-4.1zM97.06,591.81h4.1v4.1h-4.1zM101.79,587.97h4.1v4.1h-4.1zM106.52,584.41h4.1v4.1h-4.1zM111.25,580.90h4.1v4.1h-4.1zM115.98,577.23h4.1v4.1h-4.1zM120.71,573.94h4.1v4.1h-4.1zM125.44,571.12h4.1v4.1h-4.1zM130.17,568.70h4.1v4.1h-4.1zM134.90,566.61h4.1v4.1h-4.1zM139.63,565.30h4.1v4.1h-4.1zM144.36,564.45h4.1v4.1h-4.1zM149.09,563.78h4.1v4.1h-4.1zM153.82,563.36h4.1v4.1h-4.1zM158.55,563.35h4.1v4.1h-4.1zM163.28,563.35h4.1v4.1h-4.1zM168.01,563.43h4.1v4.1h-4.1zM172.74,563.80h4.1v4.1h-4.1zM177.47,564.10h4.1v4.1h-4.1zM182.20,564.33h4.1v4.1h-4.1zM186.93,564.45h4.1v4.1h-4.1zM191.66,564.36h4.1v4.1h-4.1zM196.39,564.15h4.1v4.1h-4.1zM201.12,563.88h4.1v4.1h-4.1zM205.85,563.48h4.1v4.1h-4.1zM210.58,562.96h4.1v4.1h-4.1zM215.31,562.18h4.1v4.1h-4.1zM220.04,561.14h4.1v4.1h-4.1zM224.77,559.89h4.1v4.1h-4.1zM229.50,558.38h4.1v4.1h-4.1zM234.23,556.91h4.1v4.1h-4.1zM238.96,555.41h4.1v4.1h-4.1zM243.69,554.15h4.1v4.1h-4.1zM248.42,553.03h4.1v4.1h-4.1zM253.15,552.33h4.1v4.1h-4.1zM257.88,552.06h4.1v4.1h-4.1zM262.61,551.87h4.1v4.1h-4.1zM267.34,551.67h4.1v4.1h-4.1zM272.07,551.46h4.1v4.1h-4.1zM276.80,551.26h4.1v4.1h-4.1zM281.53,551.09h4.1v4.1h-4.1zM286.26,550.95h4.1v4.1h-4.1zM290.99,550.84h4.1v4.1h-4.1zM295.72,550.74h4.1v4.1h-4.1zM300.45,550.63h4.1v4.1h-4.1zM305.18,550.54h4.1v4.1h-4.1zM309.91,550.45h4.1v4.1h-4.1zM314.64,550.32h4.1v4.1h-4.1zM319.37,550.04h4.1v4.1h-4.1zM324.10,549.43h4.1v4.1h-4.1zM328.83,548.60h4.1v4.1h-4.1zM333.56,547.32h4.1v4.1h-4.1z" fill="#000"/>
<path d="M62.70,706.49 L66.00,706.07 L70.73,705.56 L75.46,705.30 L80.19,705.30 L84.92,705.30 L89.65,705.57 L94.38,706.02 L99.11,706.54 L103.84,707.15 L108.57,707.61 L113.30,708.00 L118.03,708.26 L122.76,708.37 L127.49,708.45 L132.22,708.49 L136.95,708.49 L141.68,708.43 L146.41,708.35 L151.14,708.29 L155.87,708.24 L160.60,708.19 L165.33,708.13 L170.06,708.05 L174.79,707.95 L179.52,707.83 L184.25,707.72 L188.98,707.63 L193.71,707.54 L198.44,707.47 L203.17,707.39 L207.90,707.32 L212.63,707.27 L217.36,707.19 L222.09,707.07 L226.82,706.73 L231.55,706.17 L236.28,705.49 L241.01,704.78 L245.74,704.10 L250.47,703.35 L255.20,702.55 L259.93,701.68 L264.66,700.77 L269.39,699.83 L274.12,698.80 L278.85,697.63 L283.58,696.20 L288.31,694.42 L293.04,692.52 L297.77,690.59 L302.50,688.54 L307.23,686.31 L311.96,683.89 L316.69,681.12 L321.42,677.71 L326.15,673.84 L330.88,669.51 L335.61,664.76" stroke="#e81818" stroke-width="1.2" fill="none" stroke-linejoin="round"/>
<path d="M63.60,706.07a2.4,2.4 0 1,0 4.8,0a2.4,2.4 0 1,0 -4.8,0M68.33,705.56a2.4,2.4 0 1,0 4.8,0a2.4,2.4 0 1,0 -4.8,0M73.06,705.30a2.4,2.4 0 1,0 4.8,0a2.4,2.4 0 1,0 -4.8,0M77.79,705.30a2.4,2.4 0 1,0 4.8,0a2.4,2.4 0 1,0 -4.8,0M82.52,705.30a2.4,2.4 0 1,0 4.8,0a2.4,2.4 0 1,0 -4.8,0M87.25,705.57a2.4,2.4 0 1,0 4.8,0a2.4,2.4 0 1,0 -4.8,0M91.98,706.02a2.4,2.4 0 1,0 4.8,0a2.4,2.4 0 1,0 -4.8,0M96.71,706.54a2.4,2.4 0 1,0 4.8,0a2.4,2.4 0 1,0 -4.8,0M101.44,707.15a2.4,2.4 0 1,0 4.8,0a2.4,2.4 0 1,0 -4.8,0M106.17,707.61a2.4,2.4 0 1,0 4.8,0a2.4,2.4 0 1,0 -4.8,0M110.90,708.00a2.4,2.4 0 1,0 4.8,0a2.4,2.4 0 1,0 -4.8,0M115.63,708.26a2.4,2.4 0 1,0 4.8,0a2.4,2.4 0 1,0 -4.8,0M120.36,708.37a2.4,2.4 0 1,0 4.8,0a2.4,2.4 0 1,0 -4.8,0M125.09,708.45a2.4,2.4 0 1,0 4.8,0a2.4,2.4 0 1,0 -4.8,0M129.82,708.49a2.4,2.4 0 1,0 4.8,0a2.4,2.4 0 1,0 -4.8,0M134.55,708.49a2.4,2.4 0 1,0 4.8,0a2.4,2.4 0 1,0 -4.8,0M139.28,708.43a2.4,2.4 0 1,0 4.8,0a2.4,2.4 0 1,0 -4.8,0M144.01,708.35a2.4,2.4 0 1,0 4.8,0a2.4,2.4 0 1,0 -4.8,0M148.74,708.29a2.4,2.4 0 1,0 4.8,0a2.4,2.4 0 1,0 -4.8,0M153.47,708.24a2.4,2.4 0 1,0 4.8,0a2.4,2.4 0 1,0 -4.8,0M158.20,708.19a2.4,2.4 0 1,0 4.8,0a2.4,2.4 0 1,0 -4.8,0M162.93,708.13a2.4,2.4 0 1,0 4.8,0a2.4,2.4 0 1,0 -4.8,0M167.66,708.05a2.4,2.4 0 1,0 4.8,0a2.4,2.4 0 1,0 -4.8,0M172.39,707.95a2.4,2.4 0 1,0 4.8,0a2.4,2.4 0 1,0 -4.8,0M177.12,707.83a2.4,2.4 0 1,0 4.8,0a2.4,2.4 0 1,0 -4.8,0M181.85,707.72a2.4,2.4 0 1,0 4.8,0a2.4,2.4 0 1,0 -4.8,0M186.58,707.63a2.4,2.4 0 1,0 4.8,0a2.4,2.4 0 1,0 -4.8,0M191.31,707.54a2.4,2.4 0 1,0 4.8,0a2.4,2.4 0 1,0 -4.8,0M196.04,707.47a2.4,2.4 0 1,0 4.8,0a2.4,2.4 0 1,0 -4.8,0M200.77,707.39a2.4,2.4 0 1,0 4.8,0a2.4,2.4 0 1,0 -4.8,0M205.50,707.32a2.4,2.4 0 1,0 4.8,0a2.4,2.4 0 1,0 -4.8,0M210.23,707.27a2.4,2.4 0 1,0 4.8,0a2.4,2.4 0 1,0 -4.8,0M214.96,707.19a2.4,2.4 0 1,0 4.8,0a2.4,2.4 0 1,0 -4.8,0M219.69,707.07a2.4,2.4 0 1,0 4.8,0a2.4,2.4 0 1,0 -4.8,0M224.42,706.73a2.4,2.4 0 1,0 4.8,0a2.4,2.4 0 1,0 -4.8,0M229.15,706.17a2.4,2.4 0 1,0 4.8,0a2.4,2.4 0 1,0 -4.8,0M233.88,705.49a2.4,2.4 0 1,0 4.8,0a2.4,2.4 0 1,0 -4.8,0M238.61,704.78a2.4,2.4 0 1,0 4.8,0a2.4,2.4 0 1,0 -4.8,0M243.34,704.10a2.4,2.4 0 1,0 4.8,0a2.4,2.4 0 1,0 -4.8,0M248.07,703.35a2.4,2.4 0 1,0 4.8,0a2.4,2.4 0 1,0 -4.8,0M252.80,702.55a2.4,2.4 0 1,0 4.8,0a2.4,2.4 0 1,0 -4.8,0M257.53,701.68a2.4,2.4 0 1,0 4.8,0a2.4,2.4 0 1,0 -4.8,0M262.26,700.77a2.4,2.4 0 1,0 4.8,0a2.4,2.4 0 1,0 -4.8,0M266.99,699.83a2.4,2.4 0 1,0 4.8,0a2.4,2.4 0 1,0 -4.8,0M271.72,698.80a2.4,2.4 0 1,0 4.8,0a2.4,2.4 0 1,0 -4.8,0M276.45,697.63a2.4,2.4 0 1,0 4.8,0a2.4,2.4 0 1,0 -4.8,0M281.18,696.20a2.4,2.4 0 1,0 4.8,0a2.4,2.4 0 1,0 -4.8,0M285.91,694.42a2.4,2.4 0 1,0 4.8,0a2.4,2.4 0 1,0 -4.8,0M290.64,692.52a2.4,2.4 0 1,0 4.8,0a2.4,2.4 0 1,0 -4.8,0M295.37,690.59a2.4,2.4 0 1,0 4.8,0a2.4,2.4 0 1,0 -4.8,0M300.10,688.54a2.4,2.4 0 1,0 4.8,0a2.4,2.4 0 1,0 -4.8,0M304.83,686.31a2.4,2.4 0 1,0 4.8,0a2.4,2.4 0 1,0 -4.8,0M309.56,683.89a2.4,2.4 0 1,0 4.8,0a2.4,2.4 0 1,0 -4.8,0M314.29,681.12a2.4,2.4 0 1,0 4.8,0a2.4,2.4 0 1,0 -4.8,0M319.02,677.71a2.4,2.4 0 1,0 4.8,0a2.4,2.4 0 1,0 -4.8,0M323.75,673.84a2.4,2.4 0 1,0 4.8,0a2.4,2.4 0 1,0 -4.8,0M328.48,669.51a2.4,2.4 0 1,0 4.8,0a2.4,2.4 0 1,0 -4.8,0M333.21,664.76a2.4,2.4 0 1,0 4.8,0a2.4,2.4 0 1,0 -4.8,0" fill="#ff0000"/>
<text x="1.92" y="541.4" font-size="16.5" textLength="21.26" lengthAdjust="spacingAndGlyphs">(e)</text>
<text transform="translate(20.9,666) rotate(-90)" font-size="22.5">n<tspan dy="8.4">eff</tspan></text>
<text x="131.18" y="776.6" font-size="17.5" textLength="125.3" lengthAdjust="spacingAndGlyphs">Frequency(THz)</text>
<path d="M259.5,618.5H298.9" stroke="#000" stroke-width="1.5"/>
<rect x="276.95" y="616.25" width="4.5" height="4.5" fill="#000"/>
<text x="303.02" y="624.3" font-size="17.5">0°</text>
<path d="M259.5,639.4H298.9" stroke="#d82020" stroke-width="1.5"/>
<circle cx="279.2" cy="639.4" r="2.5" fill="#ff0000"/>
<text x="302.88" y="645.2" font-size="17.5">90°</text>
<path d="M407,539V740.9H678.6M407,539h4.5M407,579.38h4.5M407,619.76h4.5M407,660.14h4.5M407,700.52h4.5M407,740.9h4.5M407,559.19h2.5M407,599.57h2.5M407,639.95h2.5M407,680.33h2.5M407,720.71h2.5M407,740.9v-4.5M444.46,740.9v-4.5M481.92,740.9v-4.5M519.39,740.9v-4.5M556.85,740.9v-4.5M594.31,740.9v-4.5M631.77,740.9v-4.5M669.23,740.9v-4.5M425.73,740.9v-2.5M463.19,740.9v-2.5M500.66,740.9v-2.5M538.12,740.9v-2.5M575.58,740.9v-2.5M613.04,740.9v-2.5M650.5,740.9v-2.5" stroke="#404040" stroke-width="1.15" fill="none"/>
<text x="378.74" y="544.2" font-size="17.5">3.3</text>
<text x="378.85" y="584.58" font-size="17.5">3.2</text>
<text x="378.83" y="624.96" font-size="17.5">3.1</text>
<text x="378.66" y="665.34" font-size="17.5">3.0</text>
<text x="378.8" y="705.72" font-size="17.5">2.9</text>
<text x="378.73" y="746.1" font-size="17.5">2.8</text>
<text x="394.93" y="759.5" font-size="17.5">0.2</text>
<text x="432.21" y="759.5" font-size="17.5">0.4</text>
<text x="469.8" y="759.5" font-size="17.5">0.6</text>
<text x="507.26" y="759.5" font-size="17.5">0.8</text>
<text x="544.36" y="759.5" font-size="17.5">1.0</text>
<text x="581.92" y="759.5" font-size="17.5">1.2</text>
<text x="619.2" y="759.5" font-size="17.5">1.4</text>
<text x="656.79" y="759.5" font-size="17.5">1.6</text>
<path d="M407.00,691.20 L410.40,688.80 L415.08,685.65 L419.76,682.92 L424.44,680.08 L429.12,677.45 L433.80,674.60 L438.48,671.36 L443.16,668.01 L447.84,664.55 L452.52,660.91 L457.20,657.16 L461.88,653.42 L466.56,649.56 L471.24,645.71 L475.92,642.29 L480.60,639.60 L485.28,636.94 L489.96,633.89 L494.64,630.64 L499.32,627.24 L504.00,623.76 L508.68,620.21 L513.36,616.56 L518.04,612.76 L522.72,608.77 L527.40,604.52 L532.08,599.88 L536.76,594.58 L541.44,589.46 L546.12,584.97 L550.80,580.86 L555.48,577.18 L560.16,573.85 L564.84,570.95 L569.52,568.32 L574.20,566.18 L578.88,564.69 L583.56,563.55 L588.24,562.94 L592.92,562.57 L597.60,562.40 L602.28,562.74 L606.96,563.57 L611.64,564.52 L616.32,565.78 L621.00,567.14 L625.68,568.53 L630.36,569.96 L635.04,571.39 L639.72,572.82 L644.40,574.16 L649.08,575.39 L653.76,576.53 L658.44,577.60 L663.12,578.57 L667.80,579.27 L672.48,579.82 L677.16,580.22" stroke="#000" stroke-width="1.2" fill="none" stroke-linejoin="round"/>
<path d="M408.35,686.75h4.1v4.1h-4.1zM413.03,683.60h4.1v4.1h-4.1zM417.71,680.87h4.1v4.1h-4.1zM422.39,678.03h4.1v4.1h-4.1zM427.07,675.40h4.1v4.1h-4.1zM431.75,672.55h4.1v4.1h-4.1zM436.43,669.31h4.1v4.1h-4.1zM441.11,665.96h4.1v4.1h-4.1zM445.79,662.50h4.1v4.1h-4.1zM450.47,658.86h4.1v4.1h-4.1zM455.15,655.11h4.1v4.1h-4.1zM459.83,651.37h4.1v4.1h-4.1zM464.51,647.51h4.1v4.1h-4.1zM469.19,643.66h4.1v4.1h-4.1zM473.87,640.24h4.1v4.1h-4.1zM478.55,637.55h4.1v4.1h-4.1zM483.23,634.89h4.1v4.1h-4.1zM487.91,631.84h4.1v4.1h-4.1zM492.59,628.59h4.1v4.1h-4.1zM497.27,625.19h4.1v4.1h-4.1zM501.95,621.71h4.1v4.1h-4.1zM506.63,618.16h4.1v4.1h-4.1zM511.31,614.51h4.1v4.1h-4.1zM515.99,610.71h4.1v4.1h-4.1zM520.67,606.72h4.1v4.1h-4.1zM525.35,602.47h4.1v4.1h-4.1zM530.03,597.83h4.1v4.1h-4.1zM534.71,592.53h4.1v4.1h-4.1zM539.39,587.41h4.1v4.1h-4.1zM544.07,582.92h4.1v4.1h-4.1zM548.75,578.81h4.1v4.1h-4.1zM553.43,575.13h4.1v4.1h-4.1zM558.11,571.80h4.1v4.1h-4.1zM562.79,568.90h4.1v4.1h-4.1zM567.47,566.27h4.1v4.1h-4.1zM572.15,564.13h4.1v4.1h-4.1zM576.83,562.64h4.1v4.1h-4.1zM581.51,561.50h4.1v4.1h-4.1zM586.19,560.89h4.1v4.1h-4.1zM590.87,560.52h4.1v4.1h-4.1zM595.55,560.35h4.1v4.1h-4.1zM600.23,560.69h4.1v4.1h-4.1zM604.91,561.52h4.1v4.1h-4.1zM609.59,562.47h4.1v4.1h-4.1zM614.27,563.73h4.1v4.1h-4.1zM618.95,565.09h4.1v4.1h-4.1zM623.63,566.48h4.1v4.1h-4.1zM628.31,567.91h4.1v4.1h-4.1zM632.99,569.34h4.1v4.1h-4.1zM637.67,570.77h4.1v4.1h-4.1zM642.35,572.11h4.1v4.1h-4.1zM647.03,573.34h4.1v4.1h-4.1zM651.71,574.48h4.1v4.1h-4.1zM656.39,575.55h4.1v4.1h-4.1zM661.07,576.52h4.1v4.1h-4.1zM665.75,577.22h4.1v4.1h-4.1zM670.43,577.77h4.1v4.1h-4.1zM675.11,578.17h4.1v4.1h-4.1z" fill="#000"/>
<path d="M407.00,722.10 L410.40,724.80 L415.08,726.01 L419.76,726.40 L424.44,726.20 L429.12,725.81 L433.80,724.80 L438.48,723.56 L443.16,722.12 L447.84,720.27 L452.52,717.88 L457.20,715.78 L461.88,713.94 L466.56,712.48 L471.24,711.28 L475.92,710.37 L480.60,709.60 L485.28,709.17 L489.96,709.01 L494.64,709.15 L499.32,709.58 L504.00,710.22 L508.68,711.05 L513.36,711.89 L518.04,712.77 L522.72,713.49 L527.40,714.09 L532.08,714.59 L536.76,715.11 L541.44,715.40 L546.12,715.11 L550.80,714.47 L555.48,713.59 L560.16,712.46 L564.84,711.22 L569.52,709.84 L574.20,708.56 L578.88,707.36 L583.56,706.18 L588.24,704.96 L592.92,703.90 L597.60,703.01 L602.28,702.32 L606.96,701.95 L611.64,701.71 L616.32,701.51 L621.00,701.35 L625.68,701.15 L630.36,700.82 L635.04,700.51 L639.72,700.32 L644.40,700.15 L649.08,699.98 L653.76,699.81 L658.44,699.60 L663.12,699.33 L667.80,699.06 L672.48,698.81 L677.16,698.57" stroke="#e81818" stroke-width="1.2" fill="none" stroke-linejoin="round"/>
<path d="M408.00,724.80a2.4,2.4 0 1,0 4.8,0a2.4,2.4 0 1,0 -4.8,0M412.68,726.01a2.4,2.4 0 1,0 4.8,0a2.4,2.4 0 1,0 -4.8,0M417.36,726.40a2.4,2.4 0 1,0 4.8,0a2.4,2.4 0 1,0 -4.8,0M422.04,726.20a2.4,2.4 0 1,0 4.8,0a2.4,2.4 0 1,0 -4.8,0M426.72,725.81a2.4,2.4 0 1,0 4.8,0a2.4,2.4 0 1,0 -4.8,0M431.40,724.80a2.4,2.4 0 1,0 4.8,0a2.4,2.4 0 1,0 -4.8,0M436.08,723.56a2.4,2.4 0 1,0 4.8,0a2.4,2.4 0 1,0 -4.8,0M440.76,722.12a2.4,2.4 0 1,0 4.8,0a2.4,2.4 0 1,0 -4.8,0M445.44,720.27a2.4,2.4 0 1,0 4.8,0a2.4,2.4 0 1,0 -4.8,0M450.12,717.88a2.4,2.4 0 1,0 4.8,0a2.4,2.4 0 1,0 -4.8,0M454.80,715.78a2.4,2.4 0 1,0 4.8,0a2.4,2.4 0 1,0 -4.8,0M459.48,713.94a2.4,2.4 0 1,0 4.8,0a2.4,2.4 0 1,0 -4.8,0M464.16,712.48a2.4,2.4 0 1,0 4.8,0a2.4,2.4 0 1,0 -4.8,0M468.84,711.28a2.4,2.4 0 1,0 4.8,0a2.4,2.4 0 1,0 -4.8,0M473.52,710.37a2.4,2.4 0 1,0 4.8,0a2.4,2.4 0 1,0 -4.8,0M478.20,709.60a2.4,2.4 0 1,0 4.8,0a2.4,2.4 0 1,0 -4.8,0M482.88,709.17a2.4,2.4 0 1,0 4.8,0a2.4,2.4 0 1,0 -4.8,0M487.56,709.01a2.4,2.4 0 1,0 4.8,0a2.4,2.4 0 1,0 -4.8,0M492.24,709.15a2.4,2.4 0 1,0 4.8,0a2.4,2.4 0 1,0 -4.8,0M496.92,709.58a2.4,2.4 0 1,0 4.8,0a2.4,2.4 0 1,0 -4.8,0M501.60,710.22a2.4,2.4 0 1,0 4.8,0a2.4,2.4 0 1,0 -4.8,0M506.28,711.05a2.4,2.4 0 1,0 4.8,0a2.4,2.4 0 1,0 -4.8,0M510.96,711.89a2.4,2.4 0 1,0 4.8,0a2.4,2.4 0 1,0 -4.8,0M515.64,712.77a2.4,2.4 0 1,0 4.8,0a2.4,2.4 0 1,0 -4.8,0M520.32,713.49a2.4,2.4 0 1,0 4.8,0a2.4,2.4 0 1,0 -4.8,0M525.00,714.09a2.4,2.4 0 1,0 4.8,0a2.4,2.4 0 1,0 -4.8,0M529.68,714.59a2.4,2.4 0 1,0 4.8,0a2.4,2.4 0 1,0 -4.8,0M534.36,715.11a2.4,2.4 0 1,0 4.8,0a2.4,2.4 0 1,0 -4.8,0M539.04,715.40a2.4,2.4 0 1,0 4.8,0a2.4,2.4 0 1,0 -4.8,0M543.72,715.11a2.4,2.4 0 1,0 4.8,0a2.4,2.4 0 1,0 -4.8,0M548.40,714.47a2.4,2.4 0 1,0 4.8,0a2.4,2.4 0 1,0 -4.8,0M553.08,713.59a2.4,2.4 0 1,0 4.8,0a2.4,2.4 0 1,0 -4.8,0M557.76,712.46a2.4,2.4 0 1,0 4.8,0a2.4,2.4 0 1,0 -4.8,0M562.44,711.22a2.4,2.4 0 1,0 4.8,0a2.4,2.4 0 1,0 -4.8,0M567.12,709.84a2.4,2.4 0 1,0 4.8,0a2.4,2.4 0 1,0 -4.8,0M571.80,708.56a2.4,2.4 0 1,0 4.8,0a2.4,2.4 0 1,0 -4.8,0M576.48,707.36a2.4,2.4 0 1,0 4.8,0a2.4,2.4 0 1,0 -4.8,0M581.16,706.18a2.4,2.4 0 1,0 4.8,0a2.4,2.4 0 1,0 -4.8,0M585.84,704.96a2.4,2.4 0 1,0 4.8,0a2.4,2.4 0 1,0 -4.8,0M590.52,703.90a2.4,2.4 0 1,0 4.8,0a2.4,2.4 0 1,0 -4.8,0M595.20,703.01a2.4,2.4 0 1,0 4.8,0a2.4,2.4 0 1,0 -4.8,0M599.88,702.32a2.4,2.4 0 1,0 4.8,0a2.4,2.4 0 1,0 -4.8,0M604.56,701.95a2.4,2.4 0 1,0 4.8,0a2.4,2.4 0 1,0 -4.8,0M609.24,701.71a2.4,2.4 0 1,0 4.8,0a2.4,2.4 0 1,0 -4.8,0M613.92,701.51a2.4,2.4 0 1,0 4.8,0a2.4,2.4 0 1,0 -4.8,0M618.60,701.35a2.4,2.4 0 1,0 4.8,0a2.4,2.4 0 1,0 -4.8,0M623.28,701.15a2.4,2.4 0 1,0 4.8,0a2.4,2.4 0 1,0 -4.8,0M627.96,700.82a2.4,2.4 0 1,0 4.8,0a2.4,2.4 0 1,0 -4.8,0M632.64,700.51a2.4,2.4 0 1,0 4.8,0a2.4,2.4 0 1,0 -4.8,0M637.32,700.32a2.4,2.4 0 1,0 4.8,0a2.4,2.4 0 1,0 -4.8,0M642.00,700.15a2.4,2.4 0 1,0 4.8,0a2.4,2.4 0 1,0 -4.8,0M646.68,699.98a2.4,2.4 0 1,0 4.8,0a2.4,2.4 0 1,0 -4.8,0M651.36,699.81a2.4,2.4 0 1,0 4.8,0a2.4,2.4 0 1,0 -4.8,0M656.04,699.60a2.4,2.4 0 1,0 4.8,0a2.4,2.4 0 1,0 -4.8,0M660.72,699.33a2.4,2.4 0 1,0 4.8,0a2.4,2.4 0 1,0 -4.8,0M665.40,699.06a2.4,2.4 0 1,0 4.8,0a2.4,2.4 0 1,0 -4.8,0M670.08,698.81a2.4,2.4 0 1,0 4.8,0a2.4,2.4 0 1,0 -4.8,0M674.76,698.57a2.4,2.4 0 1,0 4.8,0a2.4,2.4 0 1,0 -4.8,0" fill="#ff0000"/>
<text x="346.1" y="539.5" font-size="16.5" textLength="16.69" lengthAdjust="spacingAndGlyphs">(f)</text>
<text transform="translate(362.3,667.6) rotate(-90)" font-size="22.5">n<tspan dy="8.3">eff</tspan></text>
<text x="481.3" y="776.2" font-size="17.5" textLength="123.16" lengthAdjust="spacingAndGlyphs">Frequency(THz)</text>
<path d="M604.3,644.9H643.1" stroke="#000" stroke-width="1.5"/>
<rect x="621.45" y="642.65" width="4.5" height="4.5" fill="#000"/>
<text x="647.42" y="650.7" font-size="17.5">0°</text>
<path d="M604.3,665.8H643.1" stroke="#d82020" stroke-width="1.5"/>
<circle cx="623.7" cy="665.8" r="2.5" fill="#ff0000"/>
<text x="647.28" y="671.6" font-size="17.5">90°</text>
</svg>
</body></html>
